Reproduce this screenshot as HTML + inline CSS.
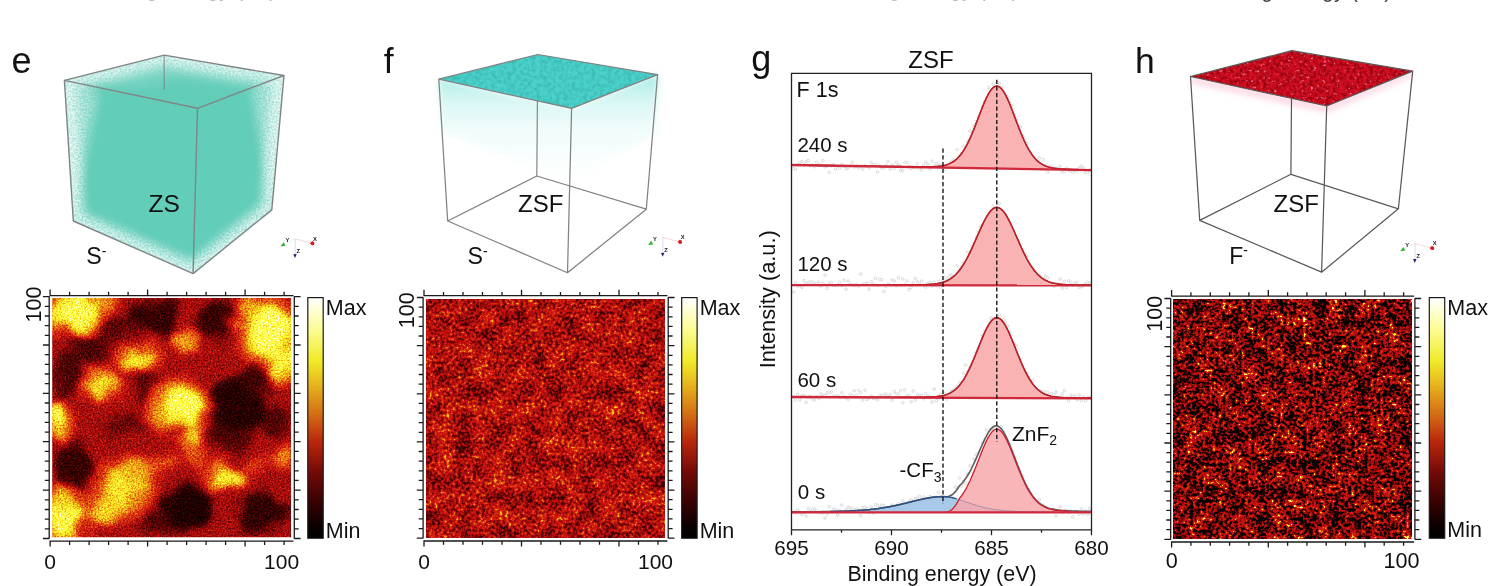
<!DOCTYPE html>
<html lang="en"><head><meta charset="utf-8"><title>Figure panels e-h</title><style>html,body{margin:0;padding:0;background:#fff}body{width:1488px;height:586px;overflow:hidden}svg{display:block;will-change:transform}</style></head><body>
<svg width="1488" height="586" viewBox="0 0 1488 586" font-family='"Liberation Sans", Arial, sans-serif' fill="#111"><defs><filter id="hotE" x="0" y="0" width="100%" height="100%" filterUnits="objectBoundingBox" color-interpolation-filters="sRGB"><feGaussianBlur in="SourceGraphic" stdDeviation="4" result="s0"/><feTurbulence type="fractalNoise" baseFrequency="0.035" numOctaves="2" seed="17" result="dm"/><feDisplacementMap in="s0" in2="dm" scale="22" xChannelSelector="R" yChannelSelector="G" result="s"/><feTurbulence type="fractalNoise" baseFrequency="0.6" numOctaves="2" seed="4" result="t"/><feColorMatrix in="t" type="matrix" values="1 0 0 0 0  1 0 0 0 0  1 0 0 0 0  0 0 0 0 1" result="n"/><feComposite in="s" in2="n" operator="arithmetic" k1="0.5" k2="0.75" k3="0.26" k4="-0.13"/><feComponentTransfer><feFuncR type="table" tableValues="0.000 0.027 0.054 0.081 0.136 0.198 0.260 0.322 0.384 0.455 0.525 0.596 0.667 0.737 0.808 0.825 0.843 0.861 0.878 0.887 0.896 0.905 0.914 0.924 0.933 0.943 0.953 0.960 0.967 0.974 0.980 0.984 0.988 0.992 0.995 0.999 1.000 1.000 1.000 1.000 1.000"/><feFuncG type="table" tableValues="0.000 0.000 0.000 0.000 0.003 0.006 0.009 0.012 0.016 0.025 0.034 0.043 0.052 0.061 0.071 0.124 0.176 0.229 0.282 0.341 0.400 0.459 0.518 0.575 0.631 0.688 0.745 0.796 0.847 0.898 0.949 0.959 0.969 0.978 0.988 0.998 1.000 1.000 1.000 1.000 1.000"/><feFuncB type="table" tableValues="0.000 0.000 0.000 0.000 0.004 0.009 0.014 0.019 0.024 0.030 0.037 0.043 0.050 0.056 0.063 0.062 0.061 0.060 0.059 0.064 0.069 0.074 0.078 0.082 0.086 0.090 0.094 0.106 0.118 0.129 0.141 0.186 0.230 0.275 0.319 0.364 0.477 0.608 0.739 0.869 1.000"/></feComponentTransfer></filter><filter id="hotF" x="0" y="0" width="100%" height="100%" color-interpolation-filters="sRGB"><feTurbulence type="fractalNoise" baseFrequency="0.055" numOctaves="2" seed="11" result="lo"/><feColorMatrix in="lo" type="matrix" values="0.7 0 0 0 -0.1  0.7 0 0 0 -0.1  0.7 0 0 0 -0.1  0 0 0 0 1" result="lo1"/><feTurbulence type="fractalNoise" baseFrequency="0.34" numOctaves="2" seed="2" result="hi"/><feColorMatrix in="hi" type="matrix" values="0 1.3 0 0 -0.4  0 1.3 0 0 -0.4  0 1.3 0 0 -0.4  0 0 0 0 1" result="hi1"/><feComposite in="lo1" in2="hi1" operator="arithmetic" k1="0" k2="1" k3="1" k4="0"/><feComponentTransfer><feFuncR type="table" tableValues="0.10 0.13 0.16 0.21 0.27 0.32 0.35 0.38 0.44 0.54 0.66"/><feFuncG type="table" tableValues="0.10 0.13 0.16 0.21 0.27 0.32 0.35 0.38 0.44 0.54 0.66"/><feFuncB type="table" tableValues="0.10 0.13 0.16 0.21 0.27 0.32 0.35 0.38 0.44 0.54 0.66"/></feComponentTransfer><feComponentTransfer><feFuncR type="table" tableValues="0.000 0.027 0.054 0.081 0.136 0.198 0.260 0.322 0.384 0.455 0.525 0.596 0.667 0.737 0.808 0.825 0.843 0.861 0.878 0.887 0.896 0.905 0.914 0.924 0.933 0.943 0.953 0.960 0.967 0.974 0.980 0.984 0.988 0.992 0.995 0.999 1.000 1.000 1.000 1.000 1.000"/><feFuncG type="table" tableValues="0.000 0.000 0.000 0.000 0.003 0.006 0.009 0.012 0.016 0.025 0.034 0.043 0.052 0.061 0.071 0.124 0.176 0.229 0.282 0.341 0.400 0.459 0.518 0.575 0.631 0.688 0.745 0.796 0.847 0.898 0.949 0.959 0.969 0.978 0.988 0.998 1.000 1.000 1.000 1.000 1.000"/><feFuncB type="table" tableValues="0.000 0.000 0.000 0.000 0.004 0.009 0.014 0.019 0.024 0.030 0.037 0.043 0.050 0.056 0.063 0.062 0.061 0.060 0.059 0.064 0.069 0.074 0.078 0.082 0.086 0.090 0.094 0.106 0.118 0.129 0.141 0.186 0.230 0.275 0.319 0.364 0.477 0.608 0.739 0.869 1.000"/></feComponentTransfer></filter><filter id="hotH" x="0" y="0" width="100%" height="100%" color-interpolation-filters="sRGB"><feTurbulence type="fractalNoise" baseFrequency="0.31 0.33" numOctaves="2" seed="23" result="hi"/><feColorMatrix in="hi" type="matrix" values="0 0 1 0 0  0 0 1 0 0  0 0 1 0 0  0 0 0 0 1" result="hi1"/><feTurbulence type="fractalNoise" baseFrequency="0.07" numOctaves="2" seed="31" result="lo"/><feColorMatrix in="lo" type="matrix" values="0.5 0 0 0 0  0.5 0 0 0 0  0.5 0 0 0 0  0 0 0 0 1" result="lo1"/><feComposite in="hi1" in2="lo1" operator="arithmetic" k1="0" k2="1" k3="1" k4="-0.25"/><feComponentTransfer><feFuncR type="table" tableValues="0 0 0 0 0 0 0.01 0.04 0.10 0.17 0.24 0.30 0.335 0.35 0.37 0.44 0.62 0.82 0.95 1 1"/><feFuncG type="table" tableValues="0 0 0 0 0 0 0.01 0.04 0.10 0.17 0.24 0.30 0.335 0.35 0.37 0.44 0.62 0.82 0.95 1 1"/><feFuncB type="table" tableValues="0 0 0 0 0 0 0.01 0.04 0.10 0.17 0.24 0.30 0.335 0.35 0.37 0.44 0.62 0.82 0.95 1 1"/></feComponentTransfer><feComponentTransfer><feFuncR type="table" tableValues="0.000 0.027 0.054 0.081 0.136 0.198 0.260 0.322 0.384 0.455 0.525 0.596 0.667 0.737 0.808 0.825 0.843 0.861 0.878 0.887 0.896 0.905 0.914 0.924 0.933 0.943 0.953 0.960 0.967 0.974 0.980 0.984 0.988 0.992 0.995 0.999 1.000 1.000 1.000 1.000 1.000"/><feFuncG type="table" tableValues="0.000 0.000 0.000 0.000 0.003 0.006 0.009 0.012 0.016 0.025 0.034 0.043 0.052 0.061 0.071 0.124 0.176 0.229 0.282 0.341 0.400 0.459 0.518 0.575 0.631 0.688 0.745 0.796 0.847 0.898 0.949 0.959 0.969 0.978 0.988 0.998 1.000 1.000 1.000 1.000 1.000"/><feFuncB type="table" tableValues="0.000 0.000 0.000 0.000 0.004 0.009 0.014 0.019 0.024 0.030 0.037 0.043 0.050 0.056 0.063 0.062 0.061 0.060 0.059 0.064 0.069 0.074 0.078 0.082 0.086 0.090 0.094 0.106 0.118 0.129 0.141 0.186 0.230 0.275 0.319 0.364 0.477 0.608 0.739 0.869 1.000"/></feComponentTransfer></filter><linearGradient id="cb" x1="0" y1="0" x2="0" y2="1"><stop offset="0%" stop-color="rgb(255,255,255)"/><stop offset="13%" stop-color="rgb(252,252,150)"/><stop offset="26.5%" stop-color="rgb(240,234,40)"/><stop offset="38%" stop-color="rgb(228,170,28)"/><stop offset="48%" stop-color="rgb(212,112,20)"/><stop offset="60%" stop-color="rgb(185,38,12)"/><stop offset="72.5%" stop-color="rgb(115,10,8)"/><stop offset="85%" stop-color="rgb(55,2,2)"/><stop offset="95%" stop-color="rgb(12,0,0)"/><stop offset="100%" stop-color="rgb(0,0,0)"/></linearGradient><radialGradient id="gB"><stop offset="0" stop-color="#fff" stop-opacity="1"/><stop offset="0.45" stop-color="#fff" stop-opacity="0.75"/><stop offset="1" stop-color="#fff" stop-opacity="0"/></radialGradient><radialGradient id="gD"><stop offset="0" stop-color="#000" stop-opacity="1"/><stop offset="0.5" stop-color="#000" stop-opacity="0.6"/><stop offset="1" stop-color="#000" stop-opacity="0"/></radialGradient><clipPath id="clE"><polygon points="64.4,80.4 164.2,55.1 284,75.5 271.8,209.9 193.1,273.6 73.3,221"/></clipPath><filter id="spk" x="-40%" y="-20%" width="180%" height="140%" color-interpolation-filters="sRGB"><feGaussianBlur in="SourceGraphic" stdDeviation="5.5" result="b"/><feTurbulence type="fractalNoise" baseFrequency="0.55" numOctaves="2" seed="5" result="t"/><feColorMatrix in="t" type="matrix" values="0 0 0 0 1  0 0 0 0 1  0 0 0 0 1  2.2 0 0 0 -0.55" result="tn"/><feComposite in="b" in2="tn" operator="in"/></filter><filter id="bl9" x="-40%" y="-20%" width="180%" height="140%"><feGaussianBlur stdDeviation="6"/></filter><filter id="texF" x="0" y="0" width="100%" height="100%" color-interpolation-filters="sRGB"><feTurbulence type="fractalNoise" baseFrequency="0.25" numOctaves="2" seed="8" result="t"/><feColorMatrix in="t" type="matrix" values="0 0 0 0 0.14  0 0 0 0 0.6  0 0 0 0 0.6  1.0 0 0 0 -0.38" result="tn"/><feComposite in="tn" in2="SourceGraphic" operator="in" result="tt"/><feMerge><feMergeNode in="SourceGraphic"/><feMergeNode in="tt"/></feMerge></filter><linearGradient id="hzF" x1="0" y1="0" x2="0" y2="1"><stop offset="0" stop-color="#86e4dd" stop-opacity="0.85"/><stop offset="0.18" stop-color="#a6ece6" stop-opacity="0.55"/><stop offset="0.5" stop-color="#c8f4f0" stop-opacity="0.28"/><stop offset="1" stop-color="#d8f8f5" stop-opacity="0"/></linearGradient><filter id="bl3" x="-10%" y="-10%" width="120%" height="120%"><feGaussianBlur stdDeviation="3"/></filter><filter id="texH" x="-2%" y="-5%" width="104%" height="115%" color-interpolation-filters="sRGB"><feTurbulence type="fractalNoise" baseFrequency="0.3" numOctaves="2" seed="3" result="t"/><feColorMatrix in="t" type="matrix" values="0 0 0 0 0.55  0 0 0 0 0  0 0 0 0 0.05  2.4 0 0 0 -0.9" result="tn"/><feComposite in="tn" in2="SourceGraphic" operator="in" result="tt"/><feColorMatrix in="t" type="matrix" values="0 0 0 0 1  0 0 0 0 0.7  0 0 0 0 0.8  0 3.5 0 0 -2.25" result="wn"/><feComposite in="wn" in2="SourceGraphic" operator="in" result="ww"/><feMerge><feMergeNode in="SourceGraphic"/><feMergeNode in="tt"/><feMergeNode in="ww"/></feMerge></filter><clipPath id="clHE"><rect x="52.2" y="298" width="238.8" height="239.2"/></clipPath></defs><g clip-path="url(#clE)">
<polygon points="64.4,80.4 164.2,55.1 284,75.5 271.8,209.9 193.1,273.6 73.3,221" fill="#62cdb9"/>
<polygon points="64.4,80.4 164.2,55.1 284,75.5 271.8,209.9 193.1,273.6 73.3,221" fill="none" stroke="#fff" stroke-width="18" opacity="0.42" filter="url(#bl9)"/>
<polygon points="64.4,80.4 164.2,55.1 284,75.5 271.8,209.9 193.1,273.6 73.3,221" fill="none" stroke="#fff" stroke-width="20" opacity="0.8" filter="url(#spk)"/>
<g fill="#fff" stroke="none"><polygon points="64.4,80.4 98.4,92.4 77.3,191 73.3,221" opacity="0.2" filter="url(#bl9)"/><polygon points="284,75.5 252,87.5 267.8,179.9 271.8,209.9" opacity="0.2" filter="url(#bl9)"/><polygon points="64.4,80.4 98.4,92.4 77.3,191 73.3,221" opacity="0.45" filter="url(#spk)"/><polygon points="284,75.5 252,87.5 267.8,179.9 271.8,209.9" opacity="0.45" filter="url(#spk)"/></g>
<polygon points="64.4,80.4 164.2,55.1 284,75.5 240.8,85.9 180.8,77.7 130.9,88.3" fill="#fff" opacity="0.16" filter="url(#bl9)"/>
</g>
<path d="M164.2 55.1V90" stroke="#7a7a7a" stroke-width="1.2" opacity="0.7"/>
<g stroke="#808585" stroke-width="1.4" fill="none" stroke-linejoin="round"><polygon points="64.4,80.4 164.2,55.1 284,75.5 271.8,209.9 193.1,273.6 73.3,221"/><path d="M64.4,80.4L197.5,108.3L284,75.5M197.5,108.3L193.1,273.6"/></g>
<text x="148.6" y="211.8" font-size="24.5">ZS</text>
<text x="86.2" y="264" font-size="23.2">S<tspan font-size="14" dy="-8.5">-</tspan></text>
<g font-size="5.8" font-weight="bold" fill="#1c1c28">
<path d="M295 238.8l17 4.5" stroke="#f6c4c4" stroke-width="0.7"/>
<path d="M295 238.8l-12 5.5" stroke="#d8efd8" stroke-width="0.6"/>
<path d="M295.2 238.8v16" stroke="#c4c4e0" stroke-width="0.6"/>
<path d="M314.5 244.4l-4.5 -0.2 1.8 -3.2z" fill="#d22" stroke="none" transform="rotate(15 312.5 243.3)"/>
<circle cx="312.5" cy="243.4" r="1.9" fill="#d42020"/>
<path d="M280.5 246.4l5 -0.6 -2 -3.6z" fill="#2cb52c"/>
<path d="M293.3 254.3l3.4 -0.2 -1.7 4z" fill="#1c1c7a"/>
<text x="285.4" y="242">Y</text>
<text x="313" y="240.6">X</text>
<text x="296.6" y="253">Z</text>
</g>
<polygon points="438.8,79.1 571.6,108.4 657.6,74.6 656.6,132.6 570.6,183.4 440.8,131.1" fill="url(#hzF)" filter="url(#bl3)"/>
<path d="M537.8,54.5L536.8,176" stroke="#8a8a8a" stroke-width="1.25" fill="none" stroke-linecap="round"/>
<polygon points="438.8,79.1 537.8,54.5 657.6,74.6 571.6,108.4" fill="#4bd1c9" filter="url(#texF)"/>
<path d="M438.8,79.1L537.8,54.5M537.8,54.5L657.6,74.6M657.6,74.6L571.6,108.4M571.6,108.4L438.8,79.1M447.7,221L536.8,176M536.8,176L646.3,209.2M646.3,209.2L567.5,272.7M567.5,272.7L447.7,221M438.8,79.1L447.7,221M657.6,74.6L646.3,209.2M571.6,108.4L567.5,272.7" stroke="#828282" stroke-width="1.25" fill="none" stroke-linecap="round"/>
<text x="518" y="211.5" font-size="24">ZSF</text>
<text x="467.6" y="264.2" font-size="23.2">S<tspan font-size="14" dy="-8.5">-</tspan></text>
<g font-size="5.8" font-weight="bold" fill="#1c1c28">
<path d="M662.7 237.4l17 4.5" stroke="#f6c4c4" stroke-width="0.7"/>
<path d="M662.7 237.4l-12 5.5" stroke="#d8efd8" stroke-width="0.6"/>
<path d="M662.9 237.4v16" stroke="#c4c4e0" stroke-width="0.6"/>
<path d="M682.2 243l-4.5 -0.2 1.8 -3.2z" fill="#d22" stroke="none" transform="rotate(15 680.2 241.9)"/>
<circle cx="680.2" cy="242" r="1.9" fill="#d42020"/>
<path d="M648.2 245l5 -0.6 -2 -3.6z" fill="#2cb52c"/>
<path d="M661 252.9l3.4 -0.2 -1.7 4z" fill="#1c1c7a"/>
<text x="653.1" y="240.6">Y</text>
<text x="680.7" y="239.2">X</text>
<text x="664.3" y="251.6">Z</text>
</g>
<polygon points="1190.5,76.5 1326.7,106 1412.7,71.1 1412.2,76.1 1326.7,112 1191.5,82.5" fill="#f8a8c0" opacity="0.55" filter="url(#bl3)"/>
<path d="M1291.9,50.7L1290.9,174.3" stroke="#5a5a5a" stroke-width="1.25" fill="none" stroke-linecap="round"/>
<polygon points="1190.5,76.5 1291.9,50.7 1412.7,71.1 1326.7,106" fill="#d40f22" filter="url(#texH)"/>
<path d="M1190.5,76.5L1291.9,50.7M1291.9,50.7L1412.7,71.1M1412.7,71.1L1326.7,106M1326.7,106L1190.5,76.5M1199.7,220.4L1290.9,174.3M1290.9,174.3L1398.4,208.8M1398.4,208.8L1321.6,272.2M1321.6,272.2L1199.7,220.4M1190.5,76.5L1199.7,220.4M1412.7,71.1L1398.4,208.8M1326.7,106L1321.6,272.2" stroke="#5a5a5a" stroke-width="1.25" fill="none" stroke-linecap="round"/>
<text x="1273.6" y="211.5" font-size="24">ZSF</text>
<text x="1229.3" y="263.6" font-size="23">F<tspan font-size="14" dy="-8.5">-</tspan></text>
<g font-size="5.8" font-weight="bold" fill="#1c1c28">
<path d="M1414.8 243.6l17 4.5" stroke="#f6c4c4" stroke-width="0.7"/>
<path d="M1414.8 243.6l-12 5.5" stroke="#d8efd8" stroke-width="0.6"/>
<path d="M1415 243.6v16" stroke="#c4c4e0" stroke-width="0.6"/>
<path d="M1434.3 249.2l-4.5 -0.2 1.8 -3.2z" fill="#d22" stroke="none" transform="rotate(15 1432.3 248.1)"/>
<circle cx="1432.3" cy="248.2" r="1.9" fill="#d42020"/>
<path d="M1400.3 251.2l5 -0.6 -2 -3.6z" fill="#2cb52c"/>
<path d="M1413.1 259.1l3.4 -0.2 -1.7 4z" fill="#1c1c7a"/>
<text x="1405.2" y="246.8">Y</text>
<text x="1432.8" y="245.4">X</text>
<text x="1416.4" y="257.8">Z</text>
</g>
<text x="11.4" y="72.6" font-size="36">e</text>
<text x="383.8" y="73" font-size="35.5">f</text>
<text x="751.2" y="71.2" font-size="36">g</text>
<text x="1135" y="73" font-size="35.5">h</text>
<g clip-path="url(#clHE)"><g filter="url(#hotE)"><rect x="22.2" y="268" width="298.8" height="299.2" fill="rgb(75,75,75)"/>
<ellipse cx="88" cy="345.8" rx="21.5" ry="19.1" fill="rgb(41,41,41)"/>
<ellipse cx="154.9" cy="317.1" rx="23.9" ry="19.1" fill="rgb(33,33,33)"/>
<ellipse cx="219.4" cy="319.5" rx="21.5" ry="21.5" fill="rgb(33,33,33)"/>
<ellipse cx="236.1" cy="408" rx="28.7" ry="26.3" fill="rgb(26,26,26)"/>
<ellipse cx="260" cy="379.3" rx="19.1" ry="16.7" fill="rgb(38,38,38)"/>
<ellipse cx="66.5" cy="376.9" rx="14.3" ry="21.5" fill="rgb(43,43,43)"/>
<ellipse cx="73.7" cy="465.4" rx="19.1" ry="23.9" fill="rgb(33,33,33)"/>
<ellipse cx="188.3" cy="508.5" rx="28.7" ry="21.5" fill="rgb(23,23,23)"/>
<ellipse cx="262.3" cy="513.3" rx="26.3" ry="19.1" fill="rgb(31,31,31)"/>
<ellipse cx="147.7" cy="388.9" rx="14.3" ry="14.4" fill="rgb(48,48,48)"/>
<ellipse cx="123.8" cy="424.8" rx="21.5" ry="9.6" fill="rgb(51,51,51)"/>
<ellipse cx="226.5" cy="439.1" rx="21.5" ry="12" fill="rgb(41,41,41)"/>
<ellipse cx="159.7" cy="525.2" rx="16.7" ry="12" fill="rgb(43,43,43)"/>
<ellipse cx="274.3" cy="422.4" rx="14.3" ry="14.4" fill="rgb(43,43,43)"/>
<ellipse cx="119.1" cy="329.1" rx="14.3" ry="12" fill="rgb(48,48,48)"/>
<ellipse cx="73.7" cy="312.4" rx="35.5" ry="25.8" fill="rgb(114,114,114)"/>
<ellipse cx="102.3" cy="305.2" rx="17.7" ry="11.3" fill="rgb(93,93,93)"/>
<ellipse cx="267.1" cy="329.1" rx="36.4" ry="38.1" fill="rgb(116,116,116)"/>
<ellipse cx="282.6" cy="360.2" rx="16.1" ry="24.2" fill="rgb(111,111,111)"/>
<ellipse cx="250.4" cy="307.6" rx="19.3" ry="12.9" fill="rgb(93,93,93)"/>
<ellipse cx="184.5" cy="338.9" rx="18.7" ry="16.5" fill="rgb(93,93,93)"/>
<ellipse cx="137.5" cy="357.8" rx="24.8" ry="14.2" fill="rgb(107,107,107)"/>
<ellipse cx="100.9" cy="383.9" rx="22.2" ry="18.7" fill="rgb(104,104,104)"/>
<ellipse cx="182.3" cy="405.6" rx="35.1" ry="28.1" fill="rgb(115,115,115)"/>
<ellipse cx="60.6" cy="420" rx="16.1" ry="17.8" fill="rgb(113,113,113)"/>
<ellipse cx="191.9" cy="437.9" rx="14.5" ry="24.2" fill="rgb(100,100,100)"/>
<ellipse cx="126.2" cy="489.4" rx="35.5" ry="32.3" fill="rgb(105,105,105)"/>
<ellipse cx="138.2" cy="470.2" rx="22.6" ry="17.8" fill="rgb(94,94,94)"/>
<ellipse cx="104.7" cy="508.5" rx="25.8" ry="19.4" fill="rgb(102,102,102)"/>
<ellipse cx="140.6" cy="498.9" rx="17.7" ry="16.1" fill="rgb(88,88,88)"/>
<ellipse cx="64.9" cy="518.8" rx="26.4" ry="29.1" fill="rgb(113,113,113)"/>
<ellipse cx="61.8" cy="496.5" rx="16.1" ry="16.1" fill="rgb(102,102,102)"/>
<ellipse cx="225.8" cy="475.2" rx="24.7" ry="16.5" fill="rgb(107,107,107)"/>
<ellipse cx="282.4" cy="457.8" rx="17.7" ry="14.5" fill="rgb(89,89,89)"/>
<ellipse cx="162" cy="463" rx="25.8" ry="14.5" fill="rgb(79,79,79)"/>
<ellipse cx="195.5" cy="460.7" rx="17.7" ry="11.6" fill="rgb(79,79,79)"/>
<ellipse cx="254" cy="464.2" rx="22.6" ry="10.7" fill="rgb(76,76,76)"/>
<ellipse cx="73.7" cy="312.4" rx="22.3" ry="16.3" fill="rgb(212,212,212)"/>
<ellipse cx="102.3" cy="305.2" rx="11.2" ry="7.1" fill="rgb(153,153,153)"/>
<ellipse cx="267.1" cy="329.1" rx="22.9" ry="24" fill="rgb(217,217,217)"/>
<ellipse cx="282.6" cy="360.2" rx="10.1" ry="15.2" fill="rgb(204,204,204)"/>
<ellipse cx="250.4" cy="307.6" rx="12.2" ry="8.1" fill="rgb(153,153,153)"/>
<ellipse cx="184.5" cy="338.9" rx="11.8" ry="10.4" fill="rgb(153,153,153)"/>
<ellipse cx="137.5" cy="357.8" rx="15.6" ry="8.9" fill="rgb(194,194,194)"/>
<ellipse cx="100.9" cy="383.9" rx="14" ry="11.8" fill="rgb(184,184,184)"/>
<ellipse cx="182.3" cy="405.6" rx="22.1" ry="17.7" fill="rgb(214,214,214)"/>
<ellipse cx="60.6" cy="420" rx="10.1" ry="11.2" fill="rgb(209,209,209)"/>
<ellipse cx="191.9" cy="437.9" rx="9.1" ry="15.2" fill="rgb(173,173,173)"/>
<ellipse cx="126.2" cy="489.4" rx="22.3" ry="20.3" fill="rgb(189,189,189)"/>
<ellipse cx="138.2" cy="470.2" rx="14.2" ry="11.2" fill="rgb(158,158,158)"/>
<ellipse cx="104.7" cy="508.5" rx="16.2" ry="12.2" fill="rgb(178,178,178)"/>
<ellipse cx="140.6" cy="498.9" rx="11.2" ry="10.2" fill="rgb(140,140,140)"/>
<ellipse cx="64.9" cy="518.8" rx="16.6" ry="18.3" fill="rgb(209,209,209)"/>
<ellipse cx="61.8" cy="496.5" rx="10.1" ry="10.2" fill="rgb(178,178,178)"/>
<ellipse cx="225.8" cy="475.2" rx="15.5" ry="10.4" fill="rgb(194,194,194)"/>
<ellipse cx="282.4" cy="457.8" rx="11.2" ry="9.1" fill="rgb(143,143,143)"/>
<ellipse cx="162" cy="463" rx="16.2" ry="9.1" fill="rgb(115,115,115)"/>
<ellipse cx="195.5" cy="460.7" rx="11.2" ry="7.3" fill="rgb(115,115,115)"/>
<ellipse cx="254" cy="464.2" rx="14.2" ry="6.7" fill="rgb(107,107,107)"/>
</g></g>
<path d="M49.2 296.3V538.8M294.3 296.3V538.8M49.5 295.6H293.5M49.5 541.1H293.5M50.1 295.6v-6M50.1 541.1v5.5M69.6 295.6v-3.8M69.6 541.1v3.8M89.1 295.6v-3.8M89.1 541.1v3.8M108.6 295.6v-3.8M108.6 541.1v3.8M128.1 295.6v-3.8M128.1 541.1v3.8M147.6 295.6v-6M147.6 541.1v5.5M167.1 295.6v-3.8M167.1 541.1v3.8M186.6 295.6v-3.8M186.6 541.1v3.8M206.1 295.6v-3.8M206.1 541.1v3.8M225.6 295.6v-3.8M225.6 541.1v3.8M245.1 295.6v-6M245.1 541.1v5.5M264.6 295.6v-3.8M264.6 541.1v3.8M284.1 295.6v-3.8M284.1 541.1v3.8M49.2 538.5h-6.3M294.3 538.5h6.3M49.2 528.8h-4.4M294.3 528.8h4.4M49.2 519.1h-4.4M294.3 519.1h4.4M49.2 509.5h-4.4M294.3 509.5h4.4M49.2 499.8h-4.4M294.3 499.8h4.4M49.2 490.1h-6.3M294.3 490.1h6.3M49.2 480.4h-4.4M294.3 480.4h4.4M49.2 470.8h-4.4M294.3 470.8h4.4M49.2 461.1h-4.4M294.3 461.1h4.4M49.2 451.4h-4.4M294.3 451.4h4.4M49.2 441.7h-6.3M294.3 441.7h6.3M49.2 432.1h-4.4M294.3 432.1h4.4M49.2 422.4h-4.4M294.3 422.4h4.4M49.2 412.7h-4.4M294.3 412.7h4.4M49.2 403h-4.4M294.3 403h4.4M49.2 393.4h-6.3M294.3 393.4h6.3M49.2 383.7h-4.4M294.3 383.7h4.4M49.2 374h-4.4M294.3 374h4.4M49.2 364.3h-4.4M294.3 364.3h4.4M49.2 354.7h-4.4M294.3 354.7h4.4M49.2 345h-6.3M294.3 345h6.3M49.2 335.3h-4.4M294.3 335.3h4.4M49.2 325.6h-4.4M294.3 325.6h4.4M49.2 316h-4.4M294.3 316h4.4M49.2 306.3h-4.4M294.3 306.3h4.4M49.2 296.6h-6.3M294.3 296.6h6.3" stroke="#1a1a1a" stroke-width="1.3" fill="none"/>
<rect x="307.8" y="297.6" width="15.4" height="240.6" fill="url(#cb)" stroke="#1a1a1a" stroke-width="1.2"/>
<text x="325.8" y="314.6" font-size="21.5">Max</text>
<text x="325.8" y="537.8" font-size="21.5">Min</text>
<text x="50.2" y="568.6" font-size="21" text-anchor="middle">0</text>
<text x="281.6" y="568.6" font-size="21" text-anchor="middle">100</text>
<text transform="translate(40.9,286.6) rotate(-90)" font-size="21.5" text-anchor="end">100</text>
<rect x="426.1" y="299" width="238.8" height="238.5" fill="#800" filter="url(#hotF)"/>
<path d="M423.1 297.2V538.5M668.2 297.2V538.5M423.4 295.7H667.4M423.4 541H667.4M424 295.7v-6M424 541v5.5M443.5 295.7v-3.8M443.5 541v3.8M463 295.7v-3.8M463 541v3.8M482.5 295.7v-3.8M482.5 541v3.8M502 295.7v-3.8M502 541v3.8M521.5 295.7v-6M521.5 541v5.5M541 295.7v-3.8M541 541v3.8M560.5 295.7v-3.8M560.5 541v3.8M580 295.7v-3.8M580 541v3.8M599.5 295.7v-3.8M599.5 541v3.8M619 295.7v-6M619 541v5.5M638.5 295.7v-3.8M638.5 541v3.8M658 295.7v-3.8M658 541v3.8M423.1 538.2h-6.3M668.2 538.2h6.3M423.1 528.6h-4.4M668.2 528.6h4.4M423.1 518.9h-4.4M668.2 518.9h4.4M423.1 509.3h-4.4M668.2 509.3h4.4M423.1 499.7h-4.4M668.2 499.7h4.4M423.1 490.1h-6.3M668.2 490.1h6.3M423.1 480.4h-4.4M668.2 480.4h4.4M423.1 470.8h-4.4M668.2 470.8h4.4M423.1 461.2h-4.4M668.2 461.2h4.4M423.1 451.5h-4.4M668.2 451.5h4.4M423.1 441.9h-6.3M668.2 441.9h6.3M423.1 432.3h-4.4M668.2 432.3h4.4M423.1 422.7h-4.4M668.2 422.7h4.4M423.1 413h-4.4M668.2 413h4.4M423.1 403.4h-4.4M668.2 403.4h4.4M423.1 393.8h-6.3M668.2 393.8h6.3M423.1 384.2h-4.4M668.2 384.2h4.4M423.1 374.5h-4.4M668.2 374.5h4.4M423.1 364.9h-4.4M668.2 364.9h4.4M423.1 355.3h-4.4M668.2 355.3h4.4M423.1 345.6h-6.3M668.2 345.6h6.3M423.1 336h-4.4M668.2 336h4.4M423.1 326.4h-4.4M668.2 326.4h4.4M423.1 316.8h-4.4M668.2 316.8h4.4M423.1 307.1h-4.4M668.2 307.1h4.4M423.1 297.5h-6.3M668.2 297.5h6.3" stroke="#1a1a1a" stroke-width="1.3" fill="none"/>
<rect x="681.7" y="297.6" width="15.4" height="240.6" fill="url(#cb)" stroke="#1a1a1a" stroke-width="1.2"/>
<text x="699.7" y="314.6" font-size="21.5">Max</text>
<text x="699.7" y="537.8" font-size="21.5">Min</text>
<text x="424.1" y="568.6" font-size="21" text-anchor="middle">0</text>
<text x="655.5" y="568.6" font-size="21" text-anchor="middle">100</text>
<text transform="translate(413.5,292.4) rotate(-90)" font-size="21.5" text-anchor="end">100</text>
<rect x="1173.7" y="299.3" width="237.9" height="239.3" fill="#800" filter="url(#hotH)"/>
<path d="M1170.7 298.2V539.6M1414.9 298.2V539.6M1171 296.1H1414.1M1171 542H1414.1M1171.6 296.1v-6M1171.6 542v5.5M1190.9 296.1v-3.8M1190.9 542v3.8M1210.3 296.1v-3.8M1210.3 542v3.8M1229.6 296.1v-3.8M1229.6 542v3.8M1248.9 296.1v-3.8M1248.9 542v3.8M1268.3 296.1v-6M1268.3 542v5.5M1287.6 296.1v-3.8M1287.6 542v3.8M1306.9 296.1v-3.8M1306.9 542v3.8M1326.2 296.1v-3.8M1326.2 542v3.8M1345.6 296.1v-3.8M1345.6 542v3.8M1364.9 296.1v-6M1364.9 542v5.5M1384.2 296.1v-3.8M1384.2 542v3.8M1403.6 296.1v-3.8M1403.6 542v3.8M1170.7 539.3h-6.3M1414.9 539.3h6.3M1170.7 529.7h-4.4M1414.9 529.7h4.4M1170.7 520h-4.4M1414.9 520h4.4M1170.7 510.4h-4.4M1414.9 510.4h4.4M1170.7 500.8h-4.4M1414.9 500.8h4.4M1170.7 491.1h-6.3M1414.9 491.1h6.3M1170.7 481.5h-4.4M1414.9 481.5h4.4M1170.7 471.9h-4.4M1414.9 471.9h4.4M1170.7 462.2h-4.4M1414.9 462.2h4.4M1170.7 452.6h-4.4M1414.9 452.6h4.4M1170.7 443h-6.3M1414.9 443h6.3M1170.7 433.3h-4.4M1414.9 433.3h4.4M1170.7 423.7h-4.4M1414.9 423.7h4.4M1170.7 414.1h-4.4M1414.9 414.1h4.4M1170.7 404.5h-4.4M1414.9 404.5h4.4M1170.7 394.8h-6.3M1414.9 394.8h6.3M1170.7 385.2h-4.4M1414.9 385.2h4.4M1170.7 375.6h-4.4M1414.9 375.6h4.4M1170.7 365.9h-4.4M1414.9 365.9h4.4M1170.7 356.3h-4.4M1414.9 356.3h4.4M1170.7 346.7h-6.3M1414.9 346.7h6.3M1170.7 337h-4.4M1414.9 337h4.4M1170.7 327.4h-4.4M1414.9 327.4h4.4M1170.7 317.8h-4.4M1414.9 317.8h4.4M1170.7 308.1h-4.4M1414.9 308.1h4.4M1170.7 298.5h-6.3M1414.9 298.5h6.3" stroke="#1a1a1a" stroke-width="1.3" fill="none"/>
<rect x="1429.3" y="297.6" width="15.4" height="240.6" fill="url(#cb)" stroke="#1a1a1a" stroke-width="1.2"/>
<text x="1447.3" y="314.6" font-size="21.5">Max</text>
<text x="1447.3" y="536.9" font-size="21.5">Min</text>
<text x="1171.7" y="567.7" font-size="21.6" text-anchor="middle">0</text>
<text x="1401.4" y="567.7" font-size="21.6" text-anchor="middle">100</text>
<text transform="translate(1162,295.8) rotate(-90)" font-size="21.5" text-anchor="end">100</text>
<g>
<g fill="#fff" stroke="#cfcfcf" stroke-width="0.8"><circle cx="793.5" cy="168.5" r="1.3"/><circle cx="795.6" cy="169.1" r="1.3"/><circle cx="797.7" cy="164.9" r="1.3"/><circle cx="799.8" cy="162.5" r="1.3"/><circle cx="801.9" cy="161.5" r="1.3"/><circle cx="804" cy="164.9" r="1.3"/><circle cx="806.1" cy="161.8" r="1.3"/><circle cx="808.2" cy="160.6" r="1.3"/><circle cx="810.3" cy="165.6" r="1.3"/><circle cx="812.4" cy="165.4" r="1.3"/><circle cx="814.5" cy="166.7" r="1.3"/><circle cx="816.6" cy="162.3" r="1.3"/><circle cx="818.7" cy="165.1" r="1.3"/><circle cx="820.8" cy="164.9" r="1.3"/><circle cx="822.9" cy="160.6" r="1.3"/><circle cx="825" cy="166.8" r="1.3"/><circle cx="827.1" cy="166.2" r="1.3"/><circle cx="829.2" cy="172.4" r="1.3"/><circle cx="831.3" cy="165.9" r="1.3"/><circle cx="833.4" cy="164.9" r="1.3"/><circle cx="835.5" cy="169.1" r="1.3"/><circle cx="837.6" cy="166" r="1.3"/><circle cx="839.7" cy="168.2" r="1.3"/><circle cx="841.8" cy="164.4" r="1.3"/><circle cx="843.9" cy="166.2" r="1.3"/><circle cx="846" cy="168.6" r="1.3"/><circle cx="848.1" cy="167.7" r="1.3"/><circle cx="850.2" cy="166" r="1.3"/><circle cx="852.3" cy="162.4" r="1.3"/><circle cx="854.4" cy="167" r="1.3"/><circle cx="856.5" cy="165.9" r="1.3"/><circle cx="858.6" cy="167.9" r="1.3"/><circle cx="860.7" cy="166.4" r="1.3"/><circle cx="862.8" cy="169.1" r="1.3"/><circle cx="864.9" cy="165.7" r="1.3"/><circle cx="867" cy="166.5" r="1.3"/><circle cx="869.1" cy="167.9" r="1.3"/><circle cx="871.2" cy="162.7" r="1.3"/><circle cx="873.3" cy="164.8" r="1.3"/><circle cx="875.4" cy="164.5" r="1.3"/><circle cx="877.5" cy="172" r="1.3"/><circle cx="879.6" cy="165.8" r="1.3"/><circle cx="881.7" cy="168" r="1.3"/><circle cx="883.8" cy="168" r="1.3"/><circle cx="885.9" cy="165.3" r="1.3"/><circle cx="888" cy="161.5" r="1.3"/><circle cx="890.1" cy="169.1" r="1.3"/><circle cx="892.2" cy="165" r="1.3"/><circle cx="894.3" cy="168.4" r="1.3"/><circle cx="896.4" cy="162.4" r="1.3"/><circle cx="898.5" cy="165" r="1.3"/><circle cx="900.6" cy="170.1" r="1.3"/><circle cx="902.7" cy="170.7" r="1.3"/><circle cx="904.8" cy="162.5" r="1.3"/><circle cx="906.9" cy="162.4" r="1.3"/><circle cx="909" cy="166.3" r="1.3"/><circle cx="911.1" cy="168.6" r="1.3"/><circle cx="913.2" cy="167" r="1.3"/><circle cx="915.3" cy="167.4" r="1.3"/><circle cx="917.4" cy="163.6" r="1.3"/><circle cx="919.5" cy="168.3" r="1.3"/><circle cx="921.6" cy="169.9" r="1.3"/><circle cx="923.7" cy="165.2" r="1.3"/><circle cx="925.8" cy="162.2" r="1.3"/><circle cx="927.9" cy="164.2" r="1.3"/><circle cx="930" cy="168.8" r="1.3"/><circle cx="932.1" cy="161.2" r="1.3"/><circle cx="934.2" cy="166.1" r="1.3"/><circle cx="936.3" cy="163.2" r="1.3"/><circle cx="938.4" cy="165.7" r="1.3"/><circle cx="940.5" cy="165.1" r="1.3"/><circle cx="942.6" cy="165.5" r="1.3"/><circle cx="944.7" cy="169.5" r="1.3"/><circle cx="946.8" cy="165.7" r="1.3"/><circle cx="948.9" cy="167.7" r="1.3"/><circle cx="951" cy="162.3" r="1.3"/><circle cx="953.1" cy="160" r="1.3"/><circle cx="955.2" cy="161.1" r="1.3"/><circle cx="957.3" cy="149.6" r="1.3"/><circle cx="959.4" cy="155.8" r="1.3"/><circle cx="961.5" cy="153.7" r="1.3"/><circle cx="963.6" cy="146.5" r="1.3"/><circle cx="965.7" cy="148.1" r="1.3"/><circle cx="967.8" cy="141" r="1.3"/><circle cx="969.9" cy="130.9" r="1.3"/><circle cx="972" cy="132.9" r="1.3"/><circle cx="974.1" cy="125.5" r="1.3"/><circle cx="976.2" cy="121.5" r="1.3"/><circle cx="978.3" cy="117.1" r="1.3"/><circle cx="980.4" cy="115.8" r="1.3"/><circle cx="982.5" cy="107" r="1.3"/><circle cx="984.6" cy="101.5" r="1.3"/><circle cx="986.7" cy="98.2" r="1.3"/><circle cx="988.8" cy="87.6" r="1.3"/><circle cx="990.9" cy="93.5" r="1.3"/><circle cx="993" cy="84.2" r="1.3"/><circle cx="995.1" cy="87.4" r="1.3"/><circle cx="997.2" cy="82.4" r="1.3"/><circle cx="999.3" cy="83.6" r="1.3"/><circle cx="1001.4" cy="87.2" r="1.3"/><circle cx="1003.5" cy="96.8" r="1.3"/><circle cx="1005.6" cy="96.8" r="1.3"/><circle cx="1007.7" cy="97.2" r="1.3"/><circle cx="1009.8" cy="103.1" r="1.3"/><circle cx="1011.9" cy="105.8" r="1.3"/><circle cx="1014" cy="114.6" r="1.3"/><circle cx="1016.1" cy="118.6" r="1.3"/><circle cx="1018.2" cy="128" r="1.3"/><circle cx="1020.3" cy="127.1" r="1.3"/><circle cx="1022.4" cy="135.3" r="1.3"/><circle cx="1024.5" cy="138.5" r="1.3"/><circle cx="1026.6" cy="143.1" r="1.3"/><circle cx="1028.7" cy="151.3" r="1.3"/><circle cx="1030.8" cy="153" r="1.3"/><circle cx="1032.9" cy="157.3" r="1.3"/><circle cx="1035" cy="161.7" r="1.3"/><circle cx="1037.1" cy="163.7" r="1.3"/><circle cx="1039.2" cy="157.9" r="1.3"/><circle cx="1041.3" cy="165.1" r="1.3"/><circle cx="1043.4" cy="159.4" r="1.3"/><circle cx="1045.5" cy="165.5" r="1.3"/><circle cx="1047.6" cy="172.2" r="1.3"/><circle cx="1049.7" cy="166.5" r="1.3"/><circle cx="1051.8" cy="166.4" r="1.3"/><circle cx="1053.9" cy="168.4" r="1.3"/><circle cx="1056" cy="168.2" r="1.3"/><circle cx="1058.1" cy="168.5" r="1.3"/><circle cx="1060.2" cy="166.3" r="1.3"/><circle cx="1062.3" cy="172" r="1.3"/><circle cx="1064.4" cy="171.5" r="1.3"/><circle cx="1066.5" cy="168.3" r="1.3"/><circle cx="1068.6" cy="170" r="1.3"/><circle cx="1070.7" cy="171.1" r="1.3"/><circle cx="1072.8" cy="172.3" r="1.3"/><circle cx="1074.9" cy="170.4" r="1.3"/><circle cx="1077" cy="171.4" r="1.3"/><circle cx="1079.1" cy="168.6" r="1.3"/><circle cx="1081.2" cy="166.2" r="1.3"/><circle cx="1083.3" cy="168" r="1.3"/><circle cx="1085.4" cy="172.6" r="1.3"/><circle cx="1087.5" cy="172.5" r="1.3"/><circle cx="1089.6" cy="170" r="1.3"/></g>
<polygon points="901,166.6 902.5,166.7 904,166.7 905.5,166.7 907,166.7 908.5,166.7 910,166.8 911.5,166.8 913,166.8 914.5,166.8 916,166.8 917.5,166.8 919,166.8 920.5,166.8 922,166.8 923.5,166.8 925,166.8 926.5,166.8 928,166.8 929.5,166.8 931,166.8 932.5,166.7 934,166.7 935.5,166.6 937,166.5 938.5,166.3 940,166.2 941.5,166 943,165.7 944.5,165.4 946,165 947.5,164.5 949,163.9 950.5,163.2 952,162.4 953.5,161.5 955,160.4 956.5,159.1 958,157.7 959.5,156.1 961,154.2 962.5,152.1 964,149.8 965.5,147.3 967,144.6 968.5,141.6 970,138.4 971.5,135 973,131.4 974.5,127.7 976,123.8 977.5,119.9 979,116 980.5,112.1 982,108.2 983.5,104.5 985,101 986.5,97.7 988,94.7 989.5,92.1 991,89.9 992.5,88.2 994,87 995.5,86.2 997,86.1 998.5,86.4 1000,87.3 1001.5,88.8 1003,90.7 1004.5,93 1006,95.8 1007.5,98.9 1009,102.3 1010.5,106 1012,109.8 1013.5,113.7 1015,117.7 1016.5,121.7 1018,125.6 1019.5,129.5 1021,133.2 1022.5,136.8 1024,140.2 1025.5,143.4 1027,146.4 1028.5,149.1 1030,151.6 1031.5,153.9 1033,156 1034.5,157.8 1036,159.5 1037.5,160.9 1039,162.2 1040.5,163.3 1042,164.2 1043.5,165.1 1045,165.8 1046.5,166.4 1048,166.9 1049.5,167.3 1051,167.6 1052.5,167.9 1054,168.2 1055.5,168.4 1057,168.6 1058.5,168.7 1060,168.9 1061.5,169 1063,169.1 1064.5,169.1 1066,169.2 1067.5,169.3 1069,169.3 1070.5,169.4 1072,169.4 1073.5,169.5 1075,169.5 1076.5,169.6 1078,169.6 1079.5,169.7 1081,169.7 1082.5,169.7 1084,169.8 1085.5,169.8 1087,169.8 1088.5,169.9 1090,169.9 1091.5,169.9 1091.5,170.2 901,166.9" fill="#f9b3b3"/>
<polyline points="791.5,164.9 793,165 794.5,165 796,165 797.5,165 799,165.1 800.5,165.1 802,165.1 803.5,165.1 805,165.2 806.5,165.2 808,165.2 809.5,165.2 811,165.3 812.5,165.3 814,165.3 815.5,165.3 817,165.4 818.5,165.4 820,165.4 821.5,165.4 823,165.5 824.5,165.5 826,165.5 827.5,165.5 829,165.6 830.5,165.6 832,165.6 833.5,165.6 835,165.7 836.5,165.7 838,165.7 839.5,165.7 841,165.8 842.5,165.8 844,165.8 845.5,165.8 847,165.9 848.5,165.9 850,165.9 851.5,165.9 853,166 854.5,166 856,166 857.5,166 859,166 860.5,166.1 862,166.1 863.5,166.1 865,166.1 866.5,166.2 868,166.2 869.5,166.2 871,166.2 872.5,166.3 874,166.3 875.5,166.3 877,166.3 878.5,166.3 880,166.4 881.5,166.4 883,166.4 884.5,166.4 886,166.5 887.5,166.5 889,166.5 890.5,166.5 892,166.5 893.5,166.6 895,166.6 896.5,166.6 898,166.6 899.5,166.6 901,166.6 902.5,166.7 904,166.7 905.5,166.7 907,166.7 908.5,166.7 910,166.8 911.5,166.8 913,166.8 914.5,166.8 916,166.8 917.5,166.8 919,166.8 920.5,166.8 922,166.8 923.5,166.8 925,166.8 926.5,166.8 928,166.8 929.5,166.8 931,166.8 932.5,166.7 934,166.7 935.5,166.6 937,166.5 938.5,166.3 940,166.2 941.5,166 943,165.7 944.5,165.4 946,165 947.5,164.5 949,163.9 950.5,163.2 952,162.4 953.5,161.5 955,160.4 956.5,159.1 958,157.7 959.5,156.1 961,154.2 962.5,152.1 964,149.8 965.5,147.3 967,144.6 968.5,141.6 970,138.4 971.5,135 973,131.4 974.5,127.7 976,123.8 977.5,119.9 979,116 980.5,112.1 982,108.2 983.5,104.5 985,101 986.5,97.7 988,94.7 989.5,92.1 991,89.9 992.5,88.2 994,87 995.5,86.2 997,86.1 998.5,86.4 1000,87.3 1001.5,88.8 1003,90.7 1004.5,93 1006,95.8 1007.5,98.9 1009,102.3 1010.5,106 1012,109.8 1013.5,113.7 1015,117.7 1016.5,121.7 1018,125.6 1019.5,129.5 1021,133.2 1022.5,136.8 1024,140.2 1025.5,143.4 1027,146.4 1028.5,149.1 1030,151.6 1031.5,153.9 1033,156 1034.5,157.8 1036,159.5 1037.5,160.9 1039,162.2 1040.5,163.3 1042,164.2 1043.5,165.1 1045,165.8 1046.5,166.4 1048,166.9 1049.5,167.3 1051,167.6 1052.5,167.9 1054,168.2 1055.5,168.4 1057,168.6 1058.5,168.7 1060,168.9 1061.5,169 1063,169.1 1064.5,169.1 1066,169.2 1067.5,169.3 1069,169.3 1070.5,169.4 1072,169.4 1073.5,169.5 1075,169.5 1076.5,169.6 1078,169.6 1079.5,169.7 1081,169.7 1082.5,169.7 1084,169.8 1085.5,169.8 1087,169.8 1088.5,169.9 1090,169.9 1091.5,169.9" fill="none" stroke="#8a1a1a" stroke-width="1.5"/>
<path d="M791.5 165L1091.5 170.2" stroke="#cf2a3c" stroke-width="2.3"/>
<polyline points="901,166.6 902.5,166.7 904,166.7 905.5,166.7 907,166.7 908.5,166.7 910,166.8 911.5,166.8 913,166.8 914.5,166.8 916,166.8 917.5,166.8 919,166.8 920.5,166.8 922,166.8 923.5,166.8 925,166.8 926.5,166.8 928,166.8 929.5,166.8 931,166.8 932.5,166.7 934,166.7 935.5,166.6 937,166.5 938.5,166.3 940,166.2 941.5,166 943,165.7 944.5,165.4 946,165 947.5,164.5 949,163.9 950.5,163.2 952,162.4 953.5,161.5 955,160.4 956.5,159.1 958,157.7 959.5,156.1 961,154.2 962.5,152.1 964,149.8 965.5,147.3 967,144.6 968.5,141.6 970,138.4 971.5,135 973,131.4 974.5,127.7 976,123.8 977.5,119.9 979,116 980.5,112.1 982,108.2 983.5,104.5 985,101 986.5,97.7 988,94.7 989.5,92.1 991,89.9 992.5,88.2 994,87 995.5,86.2 997,86.1 998.5,86.4 1000,87.3 1001.5,88.8 1003,90.7 1004.5,93 1006,95.8 1007.5,98.9 1009,102.3 1010.5,106 1012,109.8 1013.5,113.7 1015,117.7 1016.5,121.7 1018,125.6 1019.5,129.5 1021,133.2 1022.5,136.8 1024,140.2 1025.5,143.4 1027,146.4 1028.5,149.1 1030,151.6 1031.5,153.9 1033,156 1034.5,157.8 1036,159.5 1037.5,160.9 1039,162.2 1040.5,163.3 1042,164.2 1043.5,165.1 1045,165.8 1046.5,166.4 1048,166.9 1049.5,167.3 1051,167.6 1052.5,167.9 1054,168.2 1055.5,168.4 1057,168.6 1058.5,168.7 1060,168.9 1061.5,169 1063,169.1 1064.5,169.1 1066,169.2 1067.5,169.3 1069,169.3 1070.5,169.4 1072,169.4 1073.5,169.5 1075,169.5 1076.5,169.6 1078,169.6 1079.5,169.7 1081,169.7 1082.5,169.7 1084,169.8 1085.5,169.8 1087,169.8 1088.5,169.9 1090,169.9 1091.5,169.9" fill="none" stroke="#cc1f2d" stroke-width="1.1"/>
<g fill="#fff" stroke="#cfcfcf" stroke-width="0.8"><circle cx="793.5" cy="291.9" r="1.3"/><circle cx="795.6" cy="282.8" r="1.3"/><circle cx="797.7" cy="286" r="1.3"/><circle cx="799.8" cy="285.3" r="1.3"/><circle cx="801.9" cy="287.3" r="1.3"/><circle cx="804" cy="280.6" r="1.3"/><circle cx="806.1" cy="283.6" r="1.3"/><circle cx="808.2" cy="282.6" r="1.3"/><circle cx="810.3" cy="281.6" r="1.3"/><circle cx="812.4" cy="282.3" r="1.3"/><circle cx="814.5" cy="283.3" r="1.3"/><circle cx="816.6" cy="284" r="1.3"/><circle cx="818.7" cy="282.1" r="1.3"/><circle cx="820.8" cy="286.1" r="1.3"/><circle cx="822.9" cy="283.2" r="1.3"/><circle cx="825" cy="275.2" r="1.3"/><circle cx="827.1" cy="288.4" r="1.3"/><circle cx="829.2" cy="283.7" r="1.3"/><circle cx="831.3" cy="282.6" r="1.3"/><circle cx="833.4" cy="285.6" r="1.3"/><circle cx="835.5" cy="285.5" r="1.3"/><circle cx="837.6" cy="285" r="1.3"/><circle cx="839.7" cy="282.3" r="1.3"/><circle cx="841.8" cy="285.4" r="1.3"/><circle cx="843.9" cy="280.2" r="1.3"/><circle cx="846" cy="289.2" r="1.3"/><circle cx="848.1" cy="281" r="1.3"/><circle cx="850.2" cy="284.2" r="1.3"/><circle cx="852.3" cy="284.9" r="1.3"/><circle cx="854.4" cy="285.5" r="1.3"/><circle cx="856.5" cy="284.1" r="1.3"/><circle cx="858.6" cy="286.3" r="1.3"/><circle cx="860.7" cy="273.9" r="1.3"/><circle cx="862.8" cy="284.1" r="1.3"/><circle cx="864.9" cy="283.9" r="1.3"/><circle cx="867" cy="283.1" r="1.3"/><circle cx="869.1" cy="289" r="1.3"/><circle cx="871.2" cy="281.5" r="1.3"/><circle cx="873.3" cy="284.1" r="1.3"/><circle cx="875.4" cy="278.3" r="1.3"/><circle cx="877.5" cy="285.2" r="1.3"/><circle cx="879.6" cy="279.5" r="1.3"/><circle cx="881.7" cy="279.6" r="1.3"/><circle cx="883.8" cy="291.5" r="1.3"/><circle cx="885.9" cy="286.5" r="1.3"/><circle cx="888" cy="284.3" r="1.3"/><circle cx="890.1" cy="284.9" r="1.3"/><circle cx="892.2" cy="280" r="1.3"/><circle cx="894.3" cy="281.1" r="1.3"/><circle cx="896.4" cy="285.6" r="1.3"/><circle cx="898.5" cy="277.9" r="1.3"/><circle cx="900.6" cy="285.1" r="1.3"/><circle cx="902.7" cy="279" r="1.3"/><circle cx="904.8" cy="284.6" r="1.3"/><circle cx="906.9" cy="280.9" r="1.3"/><circle cx="909" cy="289.6" r="1.3"/><circle cx="911.1" cy="287.3" r="1.3"/><circle cx="913.2" cy="282.6" r="1.3"/><circle cx="915.3" cy="278.4" r="1.3"/><circle cx="917.4" cy="281.8" r="1.3"/><circle cx="919.5" cy="284" r="1.3"/><circle cx="921.6" cy="281.1" r="1.3"/><circle cx="923.7" cy="284.9" r="1.3"/><circle cx="925.8" cy="287" r="1.3"/><circle cx="927.9" cy="283.7" r="1.3"/><circle cx="930" cy="282.4" r="1.3"/><circle cx="932.1" cy="285.9" r="1.3"/><circle cx="934.2" cy="282.4" r="1.3"/><circle cx="936.3" cy="285.7" r="1.3"/><circle cx="938.4" cy="281.7" r="1.3"/><circle cx="940.5" cy="287.2" r="1.3"/><circle cx="942.6" cy="280.9" r="1.3"/><circle cx="944.7" cy="277.8" r="1.3"/><circle cx="946.8" cy="280.4" r="1.3"/><circle cx="948.9" cy="277.1" r="1.3"/><circle cx="951" cy="274.9" r="1.3"/><circle cx="953.1" cy="275.8" r="1.3"/><circle cx="955.2" cy="276.6" r="1.3"/><circle cx="957.3" cy="265.6" r="1.3"/><circle cx="959.4" cy="269.5" r="1.3"/><circle cx="961.5" cy="266.3" r="1.3"/><circle cx="963.6" cy="263.1" r="1.3"/><circle cx="965.7" cy="262.4" r="1.3"/><circle cx="967.8" cy="252.1" r="1.3"/><circle cx="969.9" cy="253.9" r="1.3"/><circle cx="972" cy="246.7" r="1.3"/><circle cx="974.1" cy="243.1" r="1.3"/><circle cx="976.2" cy="237.3" r="1.3"/><circle cx="978.3" cy="232.1" r="1.3"/><circle cx="980.4" cy="226.8" r="1.3"/><circle cx="982.5" cy="225.1" r="1.3"/><circle cx="984.6" cy="226.1" r="1.3"/><circle cx="986.7" cy="219.1" r="1.3"/><circle cx="988.8" cy="215.2" r="1.3"/><circle cx="990.9" cy="211.7" r="1.3"/><circle cx="993" cy="206.6" r="1.3"/><circle cx="995.1" cy="208.8" r="1.3"/><circle cx="997.2" cy="213" r="1.3"/><circle cx="999.3" cy="203.4" r="1.3"/><circle cx="1001.4" cy="211.3" r="1.3"/><circle cx="1003.5" cy="214" r="1.3"/><circle cx="1005.6" cy="214.7" r="1.3"/><circle cx="1007.7" cy="219.7" r="1.3"/><circle cx="1009.8" cy="225.6" r="1.3"/><circle cx="1011.9" cy="232.4" r="1.3"/><circle cx="1014" cy="234.3" r="1.3"/><circle cx="1016.1" cy="240.2" r="1.3"/><circle cx="1018.2" cy="241" r="1.3"/><circle cx="1020.3" cy="247.2" r="1.3"/><circle cx="1022.4" cy="249.8" r="1.3"/><circle cx="1024.5" cy="254.6" r="1.3"/><circle cx="1026.6" cy="256.4" r="1.3"/><circle cx="1028.7" cy="263.7" r="1.3"/><circle cx="1030.8" cy="269.5" r="1.3"/><circle cx="1032.9" cy="267.7" r="1.3"/><circle cx="1035" cy="271.7" r="1.3"/><circle cx="1037.1" cy="275.2" r="1.3"/><circle cx="1039.2" cy="275.4" r="1.3"/><circle cx="1041.3" cy="279.9" r="1.3"/><circle cx="1043.4" cy="279.3" r="1.3"/><circle cx="1045.5" cy="276.2" r="1.3"/><circle cx="1047.6" cy="277.7" r="1.3"/><circle cx="1049.7" cy="283.8" r="1.3"/><circle cx="1051.8" cy="284.2" r="1.3"/><circle cx="1053.9" cy="286.1" r="1.3"/><circle cx="1056" cy="284" r="1.3"/><circle cx="1058.1" cy="284.2" r="1.3"/><circle cx="1060.2" cy="279" r="1.3"/><circle cx="1062.3" cy="288.2" r="1.3"/><circle cx="1064.4" cy="281.3" r="1.3"/><circle cx="1066.5" cy="287.4" r="1.3"/><circle cx="1068.6" cy="280.9" r="1.3"/><circle cx="1070.7" cy="282.4" r="1.3"/><circle cx="1072.8" cy="285" r="1.3"/><circle cx="1074.9" cy="283.2" r="1.3"/><circle cx="1077" cy="282.5" r="1.3"/><circle cx="1079.1" cy="287.3" r="1.3"/><circle cx="1081.2" cy="286.7" r="1.3"/><circle cx="1083.3" cy="285.9" r="1.3"/><circle cx="1085.4" cy="283.7" r="1.3"/><circle cx="1087.5" cy="282.2" r="1.3"/><circle cx="1089.6" cy="283.3" r="1.3"/></g>
<polygon points="892,285 893.5,285 895,285 896.5,285 898,285 899.5,285 901,285 902.5,285 904,285 905.5,285 907,285 908.5,284.9 910,284.9 911.5,284.9 913,284.9 914.5,284.9 916,284.9 917.5,284.9 919,284.8 920.5,284.8 922,284.8 923.5,284.7 925,284.7 926.5,284.6 928,284.5 929.5,284.4 931,284.3 932.5,284.2 934,284.1 935.5,283.9 937,283.7 938.5,283.4 940,283.1 941.5,282.7 943,282.3 944.5,281.8 946,281.2 947.5,280.5 949,279.7 950.5,278.8 952,277.7 953.5,276.5 955,275.2 956.5,273.7 958,272 959.5,270.2 961,268.2 962.5,266 964,263.6 965.5,261 967,258.3 968.5,255.4 970,252.3 971.5,249.2 973,245.9 974.5,242.5 976,239.1 977.5,235.6 979,232.2 980.5,228.9 982,225.6 983.5,222.5 985,219.6 986.5,216.8 988,214.4 989.5,212.3 991,210.5 992.5,209.1 994,208.1 995.5,207.5 997,207.3 998.5,207.6 1000,208.3 1001.5,209.4 1003,210.9 1004.5,212.8 1006,215 1007.5,217.6 1009,220.3 1010.5,223.3 1012,226.5 1013.5,229.8 1015,233.2 1016.5,236.6 1018,240 1019.5,243.4 1021,246.8 1022.5,250.1 1024,253.2 1025.5,256.2 1027,259.1 1028.5,261.8 1030,264.3 1031.5,266.6 1033,268.8 1034.5,270.8 1036,272.5 1037.5,274.2 1039,275.6 1040.5,276.9 1042,278.1 1043.5,279.1 1045,280 1046.5,280.7 1048,281.4 1049.5,282 1051,282.5 1052.5,282.9 1054,283.2 1055.5,283.5 1057,283.8 1058.5,284 1060,284.2 1061.5,284.3 1063,284.5 1064.5,284.6 1066,284.7 1067.5,284.7 1069,284.8 1070.5,284.8 1072,284.9 1073.5,284.9 1075,284.9 1076.5,285 1078,285 1079.5,285 1081,285 1082.5,285 1084,285.1 1085.5,285.1 1087,285.1 1088.5,285.1 1090,285.1 1091.5,285.1 1091.5,285.4 892,285.3" fill="#f9b3b3"/>
<polyline points="791.5,285.1 793,285.1 794.5,285.1 796,285.1 797.5,285.1 799,285.1 800.5,285.1 802,285.1 803.5,285.1 805,285.1 806.5,285.1 808,285.1 809.5,285.1 811,285.1 812.5,285.1 814,285.1 815.5,285.1 817,285.1 818.5,285.1 820,285.1 821.5,285.1 823,285.1 824.5,285.1 826,285.1 827.5,285.1 829,285.1 830.5,285.1 832,285.1 833.5,285.1 835,285.1 836.5,285.1 838,285.1 839.5,285.1 841,285.1 842.5,285.1 844,285.1 845.5,285.1 847,285.1 848.5,285.1 850,285.1 851.5,285.1 853,285.1 854.5,285.1 856,285.1 857.5,285.1 859,285.1 860.5,285.1 862,285.1 863.5,285.1 865,285.1 866.5,285.1 868,285.1 869.5,285.1 871,285.1 872.5,285.1 874,285.1 875.5,285.1 877,285.1 878.5,285.1 880,285.1 881.5,285.1 883,285.1 884.5,285.1 886,285.1 887.5,285 889,285 890.5,285 892,285 893.5,285 895,285 896.5,285 898,285 899.5,285 901,285 902.5,285 904,285 905.5,285 907,285 908.5,284.9 910,284.9 911.5,284.9 913,284.9 914.5,284.9 916,284.9 917.5,284.9 919,284.8 920.5,284.8 922,284.8 923.5,284.7 925,284.7 926.5,284.6 928,284.5 929.5,284.4 931,284.3 932.5,284.2 934,284.1 935.5,283.9 937,283.7 938.5,283.4 940,283.1 941.5,282.7 943,282.3 944.5,281.8 946,281.2 947.5,280.5 949,279.7 950.5,278.8 952,277.7 953.5,276.5 955,275.2 956.5,273.7 958,272 959.5,270.2 961,268.2 962.5,266 964,263.6 965.5,261 967,258.3 968.5,255.4 970,252.3 971.5,249.2 973,245.9 974.5,242.5 976,239.1 977.5,235.6 979,232.2 980.5,228.9 982,225.6 983.5,222.5 985,219.6 986.5,216.8 988,214.4 989.5,212.3 991,210.5 992.5,209.1 994,208.1 995.5,207.5 997,207.3 998.5,207.6 1000,208.3 1001.5,209.4 1003,210.9 1004.5,212.8 1006,215 1007.5,217.6 1009,220.3 1010.5,223.3 1012,226.5 1013.5,229.8 1015,233.2 1016.5,236.6 1018,240 1019.5,243.4 1021,246.8 1022.5,250.1 1024,253.2 1025.5,256.2 1027,259.1 1028.5,261.8 1030,264.3 1031.5,266.6 1033,268.8 1034.5,270.8 1036,272.5 1037.5,274.2 1039,275.6 1040.5,276.9 1042,278.1 1043.5,279.1 1045,280 1046.5,280.7 1048,281.4 1049.5,282 1051,282.5 1052.5,282.9 1054,283.2 1055.5,283.5 1057,283.8 1058.5,284 1060,284.2 1061.5,284.3 1063,284.5 1064.5,284.6 1066,284.7 1067.5,284.7 1069,284.8 1070.5,284.8 1072,284.9 1073.5,284.9 1075,284.9 1076.5,285 1078,285 1079.5,285 1081,285 1082.5,285 1084,285.1 1085.5,285.1 1087,285.1 1088.5,285.1 1090,285.1 1091.5,285.1" fill="none" stroke="#8a1a1a" stroke-width="1.5"/>
<path d="M791.5 285.2L1091.5 285.4" stroke="#cf2a3c" stroke-width="2.3"/>
<polyline points="892,285 893.5,285 895,285 896.5,285 898,285 899.5,285 901,285 902.5,285 904,285 905.5,285 907,285 908.5,284.9 910,284.9 911.5,284.9 913,284.9 914.5,284.9 916,284.9 917.5,284.9 919,284.8 920.5,284.8 922,284.8 923.5,284.7 925,284.7 926.5,284.6 928,284.5 929.5,284.4 931,284.3 932.5,284.2 934,284.1 935.5,283.9 937,283.7 938.5,283.4 940,283.1 941.5,282.7 943,282.3 944.5,281.8 946,281.2 947.5,280.5 949,279.7 950.5,278.8 952,277.7 953.5,276.5 955,275.2 956.5,273.7 958,272 959.5,270.2 961,268.2 962.5,266 964,263.6 965.5,261 967,258.3 968.5,255.4 970,252.3 971.5,249.2 973,245.9 974.5,242.5 976,239.1 977.5,235.6 979,232.2 980.5,228.9 982,225.6 983.5,222.5 985,219.6 986.5,216.8 988,214.4 989.5,212.3 991,210.5 992.5,209.1 994,208.1 995.5,207.5 997,207.3 998.5,207.6 1000,208.3 1001.5,209.4 1003,210.9 1004.5,212.8 1006,215 1007.5,217.6 1009,220.3 1010.5,223.3 1012,226.5 1013.5,229.8 1015,233.2 1016.5,236.6 1018,240 1019.5,243.4 1021,246.8 1022.5,250.1 1024,253.2 1025.5,256.2 1027,259.1 1028.5,261.8 1030,264.3 1031.5,266.6 1033,268.8 1034.5,270.8 1036,272.5 1037.5,274.2 1039,275.6 1040.5,276.9 1042,278.1 1043.5,279.1 1045,280 1046.5,280.7 1048,281.4 1049.5,282 1051,282.5 1052.5,282.9 1054,283.2 1055.5,283.5 1057,283.8 1058.5,284 1060,284.2 1061.5,284.3 1063,284.5 1064.5,284.6 1066,284.7 1067.5,284.7 1069,284.8 1070.5,284.8 1072,284.9 1073.5,284.9 1075,284.9 1076.5,285 1078,285 1079.5,285 1081,285 1082.5,285 1084,285.1 1085.5,285.1 1087,285.1 1088.5,285.1 1090,285.1 1091.5,285.1" fill="none" stroke="#cc1f2d" stroke-width="1.1"/>
<g fill="#fff" stroke="#cfcfcf" stroke-width="0.8"><circle cx="793.5" cy="396.9" r="1.3"/><circle cx="795.6" cy="400.4" r="1.3"/><circle cx="797.7" cy="393.9" r="1.3"/><circle cx="799.8" cy="399.7" r="1.3"/><circle cx="801.9" cy="395.9" r="1.3"/><circle cx="804" cy="395.9" r="1.3"/><circle cx="806.1" cy="402.4" r="1.3"/><circle cx="808.2" cy="397.2" r="1.3"/><circle cx="810.3" cy="396.6" r="1.3"/><circle cx="812.4" cy="398.9" r="1.3"/><circle cx="814.5" cy="400.1" r="1.3"/><circle cx="816.6" cy="396.7" r="1.3"/><circle cx="818.7" cy="398.5" r="1.3"/><circle cx="820.8" cy="393.8" r="1.3"/><circle cx="822.9" cy="395.7" r="1.3"/><circle cx="825" cy="395.5" r="1.3"/><circle cx="827.1" cy="392.8" r="1.3"/><circle cx="829.2" cy="392.3" r="1.3"/><circle cx="831.3" cy="391.9" r="1.3"/><circle cx="833.4" cy="396.1" r="1.3"/><circle cx="835.5" cy="396.3" r="1.3"/><circle cx="837.6" cy="395.9" r="1.3"/><circle cx="839.7" cy="397" r="1.3"/><circle cx="841.8" cy="392.8" r="1.3"/><circle cx="843.9" cy="396.6" r="1.3"/><circle cx="846" cy="397.6" r="1.3"/><circle cx="848.1" cy="399.1" r="1.3"/><circle cx="850.2" cy="394.3" r="1.3"/><circle cx="852.3" cy="395.7" r="1.3"/><circle cx="854.4" cy="390.8" r="1.3"/><circle cx="856.5" cy="395.4" r="1.3"/><circle cx="858.6" cy="390.3" r="1.3"/><circle cx="860.7" cy="392.6" r="1.3"/><circle cx="862.8" cy="400.2" r="1.3"/><circle cx="864.9" cy="390.3" r="1.3"/><circle cx="867" cy="399.3" r="1.3"/><circle cx="869.1" cy="397.9" r="1.3"/><circle cx="871.2" cy="396" r="1.3"/><circle cx="873.3" cy="398.3" r="1.3"/><circle cx="875.4" cy="398.5" r="1.3"/><circle cx="877.5" cy="400.1" r="1.3"/><circle cx="879.6" cy="396.2" r="1.3"/><circle cx="881.7" cy="395.2" r="1.3"/><circle cx="883.8" cy="395.1" r="1.3"/><circle cx="885.9" cy="394" r="1.3"/><circle cx="888" cy="396.8" r="1.3"/><circle cx="890.1" cy="394.6" r="1.3"/><circle cx="892.2" cy="400.2" r="1.3"/><circle cx="894.3" cy="391.3" r="1.3"/><circle cx="896.4" cy="393.7" r="1.3"/><circle cx="898.5" cy="394.1" r="1.3"/><circle cx="900.6" cy="390.7" r="1.3"/><circle cx="902.7" cy="402.7" r="1.3"/><circle cx="904.8" cy="389.7" r="1.3"/><circle cx="906.9" cy="396.1" r="1.3"/><circle cx="909" cy="395.4" r="1.3"/><circle cx="911.1" cy="401.9" r="1.3"/><circle cx="913.2" cy="391" r="1.3"/><circle cx="915.3" cy="400.1" r="1.3"/><circle cx="917.4" cy="394.7" r="1.3"/><circle cx="919.5" cy="396.4" r="1.3"/><circle cx="921.6" cy="394.9" r="1.3"/><circle cx="923.7" cy="398.8" r="1.3"/><circle cx="925.8" cy="393.4" r="1.3"/><circle cx="927.9" cy="396.5" r="1.3"/><circle cx="930" cy="397.7" r="1.3"/><circle cx="932.1" cy="402.1" r="1.3"/><circle cx="934.2" cy="389.2" r="1.3"/><circle cx="936.3" cy="400.9" r="1.3"/><circle cx="938.4" cy="398.9" r="1.3"/><circle cx="940.5" cy="394.3" r="1.3"/><circle cx="942.6" cy="396.3" r="1.3"/><circle cx="944.7" cy="393.4" r="1.3"/><circle cx="946.8" cy="399.1" r="1.3"/><circle cx="948.9" cy="393.9" r="1.3"/><circle cx="951" cy="391.6" r="1.3"/><circle cx="953.1" cy="390.2" r="1.3"/><circle cx="955.2" cy="388.7" r="1.3"/><circle cx="957.3" cy="386.8" r="1.3"/><circle cx="959.4" cy="382.4" r="1.3"/><circle cx="961.5" cy="388.6" r="1.3"/><circle cx="963.6" cy="373.6" r="1.3"/><circle cx="965.7" cy="365" r="1.3"/><circle cx="967.8" cy="371.5" r="1.3"/><circle cx="969.9" cy="367.1" r="1.3"/><circle cx="972" cy="364" r="1.3"/><circle cx="974.1" cy="357.3" r="1.3"/><circle cx="976.2" cy="352.3" r="1.3"/><circle cx="978.3" cy="348.5" r="1.3"/><circle cx="980.4" cy="345.1" r="1.3"/><circle cx="982.5" cy="335.8" r="1.3"/><circle cx="984.6" cy="331.2" r="1.3"/><circle cx="986.7" cy="333.8" r="1.3"/><circle cx="988.8" cy="325.8" r="1.3"/><circle cx="990.9" cy="318.2" r="1.3"/><circle cx="993" cy="325.9" r="1.3"/><circle cx="995.1" cy="320" r="1.3"/><circle cx="997.2" cy="315.6" r="1.3"/><circle cx="999.3" cy="314.5" r="1.3"/><circle cx="1001.4" cy="320.6" r="1.3"/><circle cx="1003.5" cy="319.8" r="1.3"/><circle cx="1005.6" cy="322.5" r="1.3"/><circle cx="1007.7" cy="325.8" r="1.3"/><circle cx="1009.8" cy="332.7" r="1.3"/><circle cx="1011.9" cy="342.5" r="1.3"/><circle cx="1014" cy="343.1" r="1.3"/><circle cx="1016.1" cy="345.3" r="1.3"/><circle cx="1018.2" cy="356.9" r="1.3"/><circle cx="1020.3" cy="360.2" r="1.3"/><circle cx="1022.4" cy="367.4" r="1.3"/><circle cx="1024.5" cy="373.1" r="1.3"/><circle cx="1026.6" cy="373.2" r="1.3"/><circle cx="1028.7" cy="377" r="1.3"/><circle cx="1030.8" cy="380.7" r="1.3"/><circle cx="1032.9" cy="380.4" r="1.3"/><circle cx="1035" cy="388.4" r="1.3"/><circle cx="1037.1" cy="392.6" r="1.3"/><circle cx="1039.2" cy="390.9" r="1.3"/><circle cx="1041.3" cy="391.2" r="1.3"/><circle cx="1043.4" cy="392.3" r="1.3"/><circle cx="1045.5" cy="391.8" r="1.3"/><circle cx="1047.6" cy="392.5" r="1.3"/><circle cx="1049.7" cy="394.3" r="1.3"/><circle cx="1051.8" cy="393.5" r="1.3"/><circle cx="1053.9" cy="395.1" r="1.3"/><circle cx="1056" cy="392" r="1.3"/><circle cx="1058.1" cy="398" r="1.3"/><circle cx="1060.2" cy="397.3" r="1.3"/><circle cx="1062.3" cy="393.8" r="1.3"/><circle cx="1064.4" cy="390.5" r="1.3"/><circle cx="1066.5" cy="397.4" r="1.3"/><circle cx="1068.6" cy="400.8" r="1.3"/><circle cx="1070.7" cy="395.4" r="1.3"/><circle cx="1072.8" cy="396.1" r="1.3"/><circle cx="1074.9" cy="395.9" r="1.3"/><circle cx="1077" cy="399.6" r="1.3"/><circle cx="1079.1" cy="395" r="1.3"/><circle cx="1081.2" cy="400.7" r="1.3"/><circle cx="1083.3" cy="396.8" r="1.3"/><circle cx="1085.4" cy="400.6" r="1.3"/><circle cx="1087.5" cy="397.9" r="1.3"/><circle cx="1089.6" cy="397.1" r="1.3"/></g>
<polygon points="898,397.3 899.5,397.3 901,397.3 902.5,397.3 904,397.3 905.5,397.3 907,397.3 908.5,397.3 910,397.2 911.5,397.2 913,397.2 914.5,397.2 916,397.2 917.5,397.2 919,397.2 920.5,397.2 922,397.2 923.5,397.2 925,397.1 926.5,397.1 928,397.1 929.5,397 931,396.9 932.5,396.9 934,396.8 935.5,396.7 937,396.5 938.5,396.3 940,396.1 941.5,395.9 943,395.6 944.5,395.2 946,394.7 947.5,394.2 949,393.6 950.5,392.8 952,391.9 953.5,390.9 955,389.8 956.5,388.5 958,387 959.5,385.3 961,383.4 962.5,381.3 964,379 965.5,376.4 967,373.7 968.5,370.7 970,367.6 971.5,364.3 973,360.8 974.5,357.2 976,353.5 977.5,349.8 979,346 980.5,342.3 982,338.6 983.5,335.1 985,331.7 986.5,328.6 988,325.8 989.5,323.4 991,321.3 992.5,319.7 994,318.5 995.5,317.8 997,317.7 998.5,318 1000,318.8 1001.5,320.1 1003,321.9 1004.5,324.1 1006,326.7 1007.5,329.5 1009,332.7 1010.5,336.1 1012,339.7 1013.5,343.4 1015,347.2 1016.5,351 1018,354.7 1019.5,358.4 1021,362 1022.5,365.4 1024,368.7 1025.5,371.8 1027,374.7 1028.5,377.4 1030,379.9 1031.5,382.2 1033,384.2 1034.5,386.1 1036,387.7 1037.5,389.2 1039,390.5 1040.5,391.6 1042,392.6 1043.5,393.5 1045,394.2 1046.5,394.8 1048,395.3 1049.5,395.8 1051,396.2 1052.5,396.5 1054,396.7 1055.5,396.9 1057,397.1 1058.5,397.3 1060,397.4 1061.5,397.5 1063,397.6 1064.5,397.7 1066,397.7 1067.5,397.8 1069,397.8 1070.5,397.8 1072,397.9 1073.5,397.9 1075,397.9 1076.5,398 1078,398 1079.5,398 1081,398 1082.5,398 1084,398.1 1085.5,398.1 1087,398.1 1088.5,398.1 1090,398.1 1091.5,398.1 1091.5,398.4 898,397.5" fill="#f9b3b3"/>
<polyline points="791.5,396.9 793,396.9 794.5,397 796,397 797.5,397 799,397 800.5,397 802,397 803.5,397 805,397 806.5,397 808,397 809.5,397 811,397 812.5,397 814,397 815.5,397 817,397 818.5,397.1 820,397.1 821.5,397.1 823,397.1 824.5,397.1 826,397.1 827.5,397.1 829,397.1 830.5,397.1 832,397.1 833.5,397.1 835,397.1 836.5,397.1 838,397.1 839.5,397.1 841,397.1 842.5,397.1 844,397.1 845.5,397.1 847,397.2 848.5,397.2 850,397.2 851.5,397.2 853,397.2 854.5,397.2 856,397.2 857.5,397.2 859,397.2 860.5,397.2 862,397.2 863.5,397.2 865,397.2 866.5,397.2 868,397.2 869.5,397.2 871,397.2 872.5,397.2 874,397.2 875.5,397.2 877,397.2 878.5,397.2 880,397.2 881.5,397.2 883,397.2 884.5,397.2 886,397.3 887.5,397.3 889,397.3 890.5,397.3 892,397.3 893.5,397.3 895,397.3 896.5,397.3 898,397.3 899.5,397.3 901,397.3 902.5,397.3 904,397.3 905.5,397.3 907,397.3 908.5,397.3 910,397.2 911.5,397.2 913,397.2 914.5,397.2 916,397.2 917.5,397.2 919,397.2 920.5,397.2 922,397.2 923.5,397.2 925,397.1 926.5,397.1 928,397.1 929.5,397 931,396.9 932.5,396.9 934,396.8 935.5,396.7 937,396.5 938.5,396.3 940,396.1 941.5,395.9 943,395.6 944.5,395.2 946,394.7 947.5,394.2 949,393.6 950.5,392.8 952,391.9 953.5,390.9 955,389.8 956.5,388.5 958,387 959.5,385.3 961,383.4 962.5,381.3 964,379 965.5,376.4 967,373.7 968.5,370.7 970,367.6 971.5,364.3 973,360.8 974.5,357.2 976,353.5 977.5,349.8 979,346 980.5,342.3 982,338.6 983.5,335.1 985,331.7 986.5,328.6 988,325.8 989.5,323.4 991,321.3 992.5,319.7 994,318.5 995.5,317.8 997,317.7 998.5,318 1000,318.8 1001.5,320.1 1003,321.9 1004.5,324.1 1006,326.7 1007.5,329.5 1009,332.7 1010.5,336.1 1012,339.7 1013.5,343.4 1015,347.2 1016.5,351 1018,354.7 1019.5,358.4 1021,362 1022.5,365.4 1024,368.7 1025.5,371.8 1027,374.7 1028.5,377.4 1030,379.9 1031.5,382.2 1033,384.2 1034.5,386.1 1036,387.7 1037.5,389.2 1039,390.5 1040.5,391.6 1042,392.6 1043.5,393.5 1045,394.2 1046.5,394.8 1048,395.3 1049.5,395.8 1051,396.2 1052.5,396.5 1054,396.7 1055.5,396.9 1057,397.1 1058.5,397.3 1060,397.4 1061.5,397.5 1063,397.6 1064.5,397.7 1066,397.7 1067.5,397.8 1069,397.8 1070.5,397.8 1072,397.9 1073.5,397.9 1075,397.9 1076.5,398 1078,398 1079.5,398 1081,398 1082.5,398 1084,398.1 1085.5,398.1 1087,398.1 1088.5,398.1 1090,398.1 1091.5,398.1" fill="none" stroke="#8a1a1a" stroke-width="1.5"/>
<path d="M791.5 397L1091.5 398.4" stroke="#cf2a3c" stroke-width="2.3"/>
<polyline points="898,397.3 899.5,397.3 901,397.3 902.5,397.3 904,397.3 905.5,397.3 907,397.3 908.5,397.3 910,397.2 911.5,397.2 913,397.2 914.5,397.2 916,397.2 917.5,397.2 919,397.2 920.5,397.2 922,397.2 923.5,397.2 925,397.1 926.5,397.1 928,397.1 929.5,397 931,396.9 932.5,396.9 934,396.8 935.5,396.7 937,396.5 938.5,396.3 940,396.1 941.5,395.9 943,395.6 944.5,395.2 946,394.7 947.5,394.2 949,393.6 950.5,392.8 952,391.9 953.5,390.9 955,389.8 956.5,388.5 958,387 959.5,385.3 961,383.4 962.5,381.3 964,379 965.5,376.4 967,373.7 968.5,370.7 970,367.6 971.5,364.3 973,360.8 974.5,357.2 976,353.5 977.5,349.8 979,346 980.5,342.3 982,338.6 983.5,335.1 985,331.7 986.5,328.6 988,325.8 989.5,323.4 991,321.3 992.5,319.7 994,318.5 995.5,317.8 997,317.7 998.5,318 1000,318.8 1001.5,320.1 1003,321.9 1004.5,324.1 1006,326.7 1007.5,329.5 1009,332.7 1010.5,336.1 1012,339.7 1013.5,343.4 1015,347.2 1016.5,351 1018,354.7 1019.5,358.4 1021,362 1022.5,365.4 1024,368.7 1025.5,371.8 1027,374.7 1028.5,377.4 1030,379.9 1031.5,382.2 1033,384.2 1034.5,386.1 1036,387.7 1037.5,389.2 1039,390.5 1040.5,391.6 1042,392.6 1043.5,393.5 1045,394.2 1046.5,394.8 1048,395.3 1049.5,395.8 1051,396.2 1052.5,396.5 1054,396.7 1055.5,396.9 1057,397.1 1058.5,397.3 1060,397.4 1061.5,397.5 1063,397.6 1064.5,397.7 1066,397.7 1067.5,397.8 1069,397.8 1070.5,397.8 1072,397.9 1073.5,397.9 1075,397.9 1076.5,398 1078,398 1079.5,398 1081,398 1082.5,398 1084,398.1 1085.5,398.1 1087,398.1 1088.5,398.1 1090,398.1 1091.5,398.1" fill="none" stroke="#cc1f2d" stroke-width="1.1"/>
<g fill="#fff" stroke="#cfcfcf" stroke-width="0.8"><circle cx="793.5" cy="511.7" r="1.3"/><circle cx="795.6" cy="513" r="1.3"/><circle cx="797.7" cy="510.2" r="1.3"/><circle cx="799.8" cy="512.6" r="1.3"/><circle cx="801.9" cy="514.3" r="1.3"/><circle cx="804" cy="512.7" r="1.3"/><circle cx="806.1" cy="516.2" r="1.3"/><circle cx="808.2" cy="508.8" r="1.3"/><circle cx="810.3" cy="511.7" r="1.3"/><circle cx="812.4" cy="509.3" r="1.3"/><circle cx="814.5" cy="509.1" r="1.3"/><circle cx="816.6" cy="510.9" r="1.3"/><circle cx="818.7" cy="512" r="1.3"/><circle cx="820.8" cy="512.6" r="1.3"/><circle cx="822.9" cy="512.9" r="1.3"/><circle cx="825" cy="518" r="1.3"/><circle cx="827.1" cy="513.9" r="1.3"/><circle cx="829.2" cy="506.5" r="1.3"/><circle cx="831.3" cy="511.8" r="1.3"/><circle cx="833.4" cy="509.3" r="1.3"/><circle cx="835.5" cy="509.6" r="1.3"/><circle cx="837.6" cy="515" r="1.3"/><circle cx="839.7" cy="510.3" r="1.3"/><circle cx="841.8" cy="505.1" r="1.3"/><circle cx="843.9" cy="511.8" r="1.3"/><circle cx="846" cy="509.9" r="1.3"/><circle cx="848.1" cy="507.2" r="1.3"/><circle cx="850.2" cy="507.9" r="1.3"/><circle cx="852.3" cy="508.6" r="1.3"/><circle cx="854.4" cy="510.3" r="1.3"/><circle cx="856.5" cy="509" r="1.3"/><circle cx="858.6" cy="510.4" r="1.3"/><circle cx="860.7" cy="515.5" r="1.3"/><circle cx="862.8" cy="507.5" r="1.3"/><circle cx="864.9" cy="507.3" r="1.3"/><circle cx="867" cy="508.7" r="1.3"/><circle cx="869.1" cy="512.6" r="1.3"/><circle cx="871.2" cy="507" r="1.3"/><circle cx="873.3" cy="513.1" r="1.3"/><circle cx="875.4" cy="504.7" r="1.3"/><circle cx="877.5" cy="505.2" r="1.3"/><circle cx="879.6" cy="507.8" r="1.3"/><circle cx="881.7" cy="505.1" r="1.3"/><circle cx="883.8" cy="505.5" r="1.3"/><circle cx="885.9" cy="508.4" r="1.3"/><circle cx="888" cy="508.8" r="1.3"/><circle cx="890.1" cy="506.6" r="1.3"/><circle cx="892.2" cy="505" r="1.3"/><circle cx="894.3" cy="509.4" r="1.3"/><circle cx="896.4" cy="506.2" r="1.3"/><circle cx="898.5" cy="503.8" r="1.3"/><circle cx="900.6" cy="507.7" r="1.3"/><circle cx="902.7" cy="500.8" r="1.3"/><circle cx="904.8" cy="503.5" r="1.3"/><circle cx="906.9" cy="504.5" r="1.3"/><circle cx="909" cy="502" r="1.3"/><circle cx="911.1" cy="499.8" r="1.3"/><circle cx="913.2" cy="502" r="1.3"/><circle cx="915.3" cy="498.8" r="1.3"/><circle cx="917.4" cy="498.2" r="1.3"/><circle cx="919.5" cy="496.4" r="1.3"/><circle cx="921.6" cy="502.9" r="1.3"/><circle cx="923.7" cy="496.9" r="1.3"/><circle cx="925.8" cy="501.6" r="1.3"/><circle cx="927.9" cy="498.9" r="1.3"/><circle cx="930" cy="496.6" r="1.3"/><circle cx="932.1" cy="499.1" r="1.3"/><circle cx="934.2" cy="497.6" r="1.3"/><circle cx="936.3" cy="497" r="1.3"/><circle cx="938.4" cy="492.3" r="1.3"/><circle cx="940.5" cy="496.6" r="1.3"/><circle cx="942.6" cy="499" r="1.3"/><circle cx="944.7" cy="497.8" r="1.3"/><circle cx="946.8" cy="499.5" r="1.3"/><circle cx="948.9" cy="500.4" r="1.3"/><circle cx="951" cy="496.2" r="1.3"/><circle cx="953.1" cy="499.6" r="1.3"/><circle cx="955.2" cy="487.1" r="1.3"/><circle cx="957.3" cy="488.2" r="1.3"/><circle cx="959.4" cy="478.1" r="1.3"/><circle cx="961.5" cy="486.1" r="1.3"/><circle cx="963.6" cy="481.5" r="1.3"/><circle cx="965.7" cy="483.5" r="1.3"/><circle cx="967.8" cy="474.1" r="1.3"/><circle cx="969.9" cy="465.5" r="1.3"/><circle cx="972" cy="471.4" r="1.3"/><circle cx="974.1" cy="459.2" r="1.3"/><circle cx="976.2" cy="454.8" r="1.3"/><circle cx="978.3" cy="453.4" r="1.3"/><circle cx="980.4" cy="451" r="1.3"/><circle cx="982.5" cy="442.9" r="1.3"/><circle cx="984.6" cy="440.5" r="1.3"/><circle cx="986.7" cy="430.2" r="1.3"/><circle cx="988.8" cy="437.5" r="1.3"/><circle cx="990.9" cy="429.3" r="1.3"/><circle cx="993" cy="427.8" r="1.3"/><circle cx="995.1" cy="428.2" r="1.3"/><circle cx="997.2" cy="426.9" r="1.3"/><circle cx="999.3" cy="427.9" r="1.3"/><circle cx="1001.4" cy="426.6" r="1.3"/><circle cx="1003.5" cy="431.9" r="1.3"/><circle cx="1005.6" cy="437.3" r="1.3"/><circle cx="1007.7" cy="443.5" r="1.3"/><circle cx="1009.8" cy="444.9" r="1.3"/><circle cx="1011.9" cy="450.7" r="1.3"/><circle cx="1014" cy="456.9" r="1.3"/><circle cx="1016.1" cy="463.1" r="1.3"/><circle cx="1018.2" cy="467.4" r="1.3"/><circle cx="1020.3" cy="471.2" r="1.3"/><circle cx="1022.4" cy="475.4" r="1.3"/><circle cx="1024.5" cy="484.9" r="1.3"/><circle cx="1026.6" cy="486.7" r="1.3"/><circle cx="1028.7" cy="489.7" r="1.3"/><circle cx="1030.8" cy="503.5" r="1.3"/><circle cx="1032.9" cy="498.7" r="1.3"/><circle cx="1035" cy="501.2" r="1.3"/><circle cx="1037.1" cy="501.3" r="1.3"/><circle cx="1039.2" cy="499.7" r="1.3"/><circle cx="1041.3" cy="507.7" r="1.3"/><circle cx="1043.4" cy="505.3" r="1.3"/><circle cx="1045.5" cy="506.8" r="1.3"/><circle cx="1047.6" cy="510.5" r="1.3"/><circle cx="1049.7" cy="511.2" r="1.3"/><circle cx="1051.8" cy="509.4" r="1.3"/><circle cx="1053.9" cy="509.2" r="1.3"/><circle cx="1056" cy="515.8" r="1.3"/><circle cx="1058.1" cy="511.5" r="1.3"/><circle cx="1060.2" cy="506.9" r="1.3"/><circle cx="1062.3" cy="512.4" r="1.3"/><circle cx="1064.4" cy="510.7" r="1.3"/><circle cx="1066.5" cy="510.5" r="1.3"/><circle cx="1068.6" cy="512.6" r="1.3"/><circle cx="1070.7" cy="511.3" r="1.3"/><circle cx="1072.8" cy="516.7" r="1.3"/><circle cx="1074.9" cy="511.4" r="1.3"/><circle cx="1077" cy="511.6" r="1.3"/><circle cx="1079.1" cy="514.3" r="1.3"/><circle cx="1081.2" cy="509.2" r="1.3"/><circle cx="1083.3" cy="514" r="1.3"/><circle cx="1085.4" cy="510.8" r="1.3"/><circle cx="1087.5" cy="514.6" r="1.3"/><circle cx="1089.6" cy="508.5" r="1.3"/></g>
<polygon points="830.5,511.5 832,511.5 833.5,511.5 835,511.4 836.5,511.4 838,511.3 839.5,511.3 841,511.3 842.5,511.2 844,511.2 845.5,511.1 847,511.1 848.5,511 850,510.9 851.5,510.9 853,510.8 854.5,510.7 856,510.6 857.5,510.5 859,510.4 860.5,510.3 862,510.2 863.5,510.1 865,510 866.5,509.8 868,509.7 869.5,509.6 871,509.4 872.5,509.2 874,509.1 875.5,508.9 877,508.7 878.5,508.5 880,508.2 881.5,508 883,507.8 884.5,507.5 886,507.3 887.5,507 889,506.7 890.5,506.5 892,506.2 893.5,505.9 895,505.6 896.5,505.2 898,504.9 899.5,504.6 901,504.2 902.5,503.9 904,503.5 905.5,503.2 907,502.8 908.5,502.4 910,502.1 911.5,501.7 913,501.3 914.5,501 916,500.6 917.5,500.2 919,499.9 920.5,499.5 922,499.2 923.5,498.9 925,498.6 926.5,498.3 928,498 929.5,497.8 931,497.5 932.5,497.3 934,497.1 935.5,497 937,496.8 938.5,496.7 940,496.7 941.5,496.6 943,496.6 944.5,496.6 946,496.7 947.5,496.9 949,497.1 950.5,497.3 952,497.6 953.5,498 955,498.4 956.5,498.8 958,499.2 959.5,499.7 961,500.2 962.5,500.7 964,501.2 965.5,501.7 967,502.3 968.5,502.8 970,503.3 971.5,503.8 973,504.3 974.5,504.8 976,505.2 977.5,505.7 979,506.1 980.5,506.5 982,506.9 983.5,507.3 985,507.7 986.5,508 988,508.3 989.5,508.6 991,508.9 992.5,509.1 994,509.4 995.5,509.6 997,509.8 998.5,510 1000,510.2 1001.5,510.3 1003,510.5 1004.5,510.6 1006,510.7 1007.5,510.8 1009,510.9 1010.5,511 1012,511.1 1013.5,511.2 1015,511.2 1016.5,511.3 1018,511.4 1019.5,511.4 1021,511.5 1022.5,511.5 1024,511.5 1025.5,511.6 1027,511.6 1028.5,511.6 1030,511.7 1031.5,511.7 1033,511.7 1034.5,511.7 1036,511.8 1037.5,511.8 1039,511.8 1040.5,511.8 1042,511.8 1043.5,511.8 1045,511.8 1046.5,511.9 1048,511.9 1049.5,511.9 1051,511.9 1052.5,511.9 1054,511.9 1055.5,511.9 1057,511.9 1058.5,511.9 1060,511.9 1061.5,512 1063,512 1064.5,512 1066,512 1067.5,512 1069,512 1070.5,512 1072,512 1073.5,512 1073.5,512.3 830.5,512.3" fill="#9fc3e6" opacity="0.9"/>
<polygon points="944.5,512.3 946,512.3 947.5,512.1 949,511.4 950.5,510.5 952,509.4 953.5,507.9 955,506.1 956.5,503.9 958,501.2 959.5,498.4 961,496.5 962.5,494.4 964,492.1 965.5,489.6 967,486.8 968.5,483.8 970,480.7 971.5,477.3 973,473.8 974.5,470.2 976,466.5 977.5,462.6 979,458.8 980.5,455 982,451.2 983.5,447.5 985,444.1 986.5,440.8 988,437.9 989.5,435.3 991,433.1 992.5,431.3 994,430 995.5,429.3 997,429.1 998.5,429.5 1000,430.3 1001.5,431.7 1003,433.6 1004.5,435.9 1006,438.6 1007.5,441.7 1009,445 1010.5,448.5 1012,452.2 1013.5,456 1015,459.8 1016.5,463.7 1018,467.5 1019.5,471.2 1021,474.8 1022.5,478.3 1024,481.5 1025.5,484.7 1027,487.6 1028.5,490.3 1030,492.7 1031.5,495 1033,497.1 1034.5,498.9 1036,500.6 1037.5,502.1 1039,503.4 1040.5,504.5 1042,505.5 1043.5,506.4 1045,507.1 1046.5,507.8 1048,508.3 1049.5,508.8 1051,509.2 1052.5,509.5 1054,509.8 1055.5,510.1 1057,510.3 1058.5,510.4 1060,510.6 1061.5,510.7 1063,510.8 1064.5,510.9 1066,511 1067.5,511.1 1069,511.1 1069,512.3 944.5,512.3" fill="#f7a9ad" opacity="0.85"/>
<polyline points="791.5,511.9 793,511.9 794.5,511.9 796,511.9 797.5,511.9 799,511.8 800.5,511.8 802,511.8 803.5,511.8 805,511.8 806.5,511.8 808,511.8 809.5,511.8 811,511.8 812.5,511.7 814,511.7 815.5,511.7 817,511.7 818.5,511.7 820,511.7 821.5,511.6 823,511.6 824.5,511.6 826,511.6 827.5,511.6 829,511.5 830.5,511.5 832,511.5 833.5,511.5 835,511.4 836.5,511.4 838,511.3 839.5,511.3 841,511.3 842.5,511.2 844,511.2 845.5,511.1 847,511.1 848.5,511 850,510.9 851.5,510.9 853,510.8 854.5,510.7 856,510.6 857.5,510.5 859,510.4 860.5,510.3 862,510.2 863.5,510.1 865,510 866.5,509.8 868,509.7 869.5,509.6 871,509.4 872.5,509.2 874,509.1 875.5,508.9 877,508.7 878.5,508.5 880,508.2 881.5,508 883,507.8 884.5,507.5 886,507.3 887.5,507 889,506.7 890.5,506.5 892,506.2 893.5,505.9 895,505.6 896.5,505.2 898,504.9 899.5,504.6 901,504.2 902.5,503.9 904,503.5 905.5,503.2 907,502.8 908.5,502.4 910,502.1 911.5,501.7 913,501.3 914.5,501 916,500.6 917.5,500.2 919,499.9 920.5,499.5 922,499.2 923.5,498.9 925,498.6 926.5,498.3 928,498 929.5,497.8 931,497.5 932.5,497.3 934,497.1 935.5,497 937,496.8 938.5,496.7 940,496.7 941.5,496.6 943,496.6 944.5,496.6 946,496.7 947.5,496.7 949,496.2 950.5,495.5 952,494.7 953.5,493.6 955,492.1 956.5,490.3 958,488 959.5,485.7 961,484.3 962.5,482.7 964,480.8 965.5,478.8 967,476.5 968.5,474 970,471.4 971.5,468.5 973,465.4 974.5,462.2 976,458.9 977.5,455.5 979,452 980.5,448.6 982,445.2 983.5,441.9 985,438.7 986.5,435.8 988,433.1 989.5,430.8 991,428.9 992.5,427.4 994,426.3 995.5,425.8 997,425.8 998.5,426.4 1000,427.5 1001.5,429.1 1003,431.1 1004.5,433.6 1006,436.5 1007.5,439.6 1009,443.1 1010.5,446.8 1012,450.6 1013.5,454.5 1015,458.4 1016.5,462.4 1018,466.3 1019.5,470.1 1021,473.8 1022.5,477.3 1024,480.6 1025.5,483.8 1027,486.8 1028.5,489.5 1030,492 1031.5,494.3 1033,496.4 1034.5,498.3 1036,500 1037.5,501.5 1039,502.8 1040.5,504 1042,505 1043.5,505.9 1045,506.7 1046.5,507.3 1048,507.9 1049.5,508.4 1051,508.8 1052.5,509.1 1054,509.4 1055.5,509.7 1057,509.9 1058.5,510.1 1060,510.2 1061.5,510.4 1063,510.5 1064.5,510.6 1066,510.7 1067.5,510.8 1069,510.8 1070.5,510.9 1072,511 1073.5,511 1075,511.1 1076.5,511.1 1078,511.1 1079.5,511.2 1081,511.2 1082.5,511.2 1084,511.3 1085.5,511.3 1087,511.3 1088.5,511.4 1090,511.4 1091.5,511.4" fill="none" stroke="#5e5e5e" stroke-width="1.6"/>
<polyline points="830.5,511.5 832,511.5 833.5,511.5 835,511.4 836.5,511.4 838,511.3 839.5,511.3 841,511.3 842.5,511.2 844,511.2 845.5,511.1 847,511.1 848.5,511 850,510.9 851.5,510.9 853,510.8 854.5,510.7 856,510.6 857.5,510.5 859,510.4 860.5,510.3 862,510.2 863.5,510.1 865,510 866.5,509.8 868,509.7 869.5,509.6 871,509.4 872.5,509.2 874,509.1 875.5,508.9 877,508.7 878.5,508.5 880,508.2 881.5,508 883,507.8 884.5,507.5 886,507.3 887.5,507 889,506.7 890.5,506.5 892,506.2 893.5,505.9 895,505.6 896.5,505.2 898,504.9 899.5,504.6 901,504.2 902.5,503.9 904,503.5 905.5,503.2 907,502.8 908.5,502.4 910,502.1 911.5,501.7 913,501.3 914.5,501 916,500.6 917.5,500.2 919,499.9 920.5,499.5 922,499.2 923.5,498.9 925,498.6 926.5,498.3 928,498 929.5,497.8 931,497.5 932.5,497.3 934,497.1 935.5,497 937,496.8 938.5,496.7 940,496.7 941.5,496.6 943,496.6 944.5,496.6 946,496.7 947.5,496.9 949,497.1 950.5,497.3 952,497.6 953.5,498 955,498.4 956.5,498.8" fill="none" stroke="#2b4f86" stroke-width="1.4"/>
<polyline points="956.5,498.8 958,499.2 959.5,499.7 961,500.2 962.5,500.7 964,501.2 965.5,501.7 967,502.3 968.5,502.8 970,503.3 971.5,503.8 973,504.3 974.5,504.8 976,505.2 977.5,505.7 979,506.1 980.5,506.5 982,506.9 983.5,507.3 985,507.7 986.5,508 988,508.3 989.5,508.6 991,508.9 992.5,509.1 994,509.4 995.5,509.6 997,509.8 998.5,510 1000,510.2 1001.5,510.3 1003,510.5 1004.5,510.6 1006,510.7 1007.5,510.8 1009,510.9 1010.5,511 1012,511.1 1013.5,511.2 1015,511.2 1016.5,511.3 1018,511.4 1019.5,511.4 1021,511.5 1022.5,511.5 1024,511.5 1025.5,511.6 1027,511.6 1028.5,511.6 1030,511.7 1031.5,511.7 1033,511.7 1034.5,511.7 1036,511.8 1037.5,511.8 1039,511.8 1040.5,511.8 1042,511.8 1043.5,511.8 1045,511.8 1046.5,511.9 1048,511.9 1049.5,511.9 1051,511.9 1052.5,511.9 1054,511.9 1055.5,511.9 1057,511.9 1058.5,511.9 1060,511.9 1061.5,512 1063,512 1064.5,512 1066,512 1067.5,512 1069,512 1070.5,512 1072,512 1073.5,512" fill="none" stroke="#2b4f86" stroke-width="1" opacity="0.35"/>
<polyline points="944.5,512.3 946,512.3 947.5,512.1 949,511.4 950.5,510.5 952,509.4 953.5,507.9 955,506.1 956.5,503.9 958,501.2 959.5,498.4 961,496.5 962.5,494.4 964,492.1 965.5,489.6 967,486.8 968.5,483.8 970,480.7 971.5,477.3 973,473.8 974.5,470.2 976,466.5 977.5,462.6 979,458.8 980.5,455 982,451.2 983.5,447.5 985,444.1 986.5,440.8 988,437.9 989.5,435.3 991,433.1 992.5,431.3 994,430 995.5,429.3 997,429.1 998.5,429.5 1000,430.3 1001.5,431.7 1003,433.6 1004.5,435.9 1006,438.6 1007.5,441.7 1009,445 1010.5,448.5 1012,452.2 1013.5,456 1015,459.8 1016.5,463.7 1018,467.5 1019.5,471.2 1021,474.8 1022.5,478.3 1024,481.5 1025.5,484.7 1027,487.6 1028.5,490.3 1030,492.7 1031.5,495 1033,497.1 1034.5,498.9 1036,500.6 1037.5,502.1 1039,503.4 1040.5,504.5 1042,505.5 1043.5,506.4 1045,507.1 1046.5,507.8 1048,508.3 1049.5,508.8 1051,509.2 1052.5,509.5 1054,509.8 1055.5,510.1 1057,510.3 1058.5,510.4 1060,510.6 1061.5,510.7 1063,510.8 1064.5,510.9 1066,511 1067.5,511.1 1069,511.1" fill="none" stroke="#cc1f2d" stroke-width="1.3"/>
<path d="M791.5 512.3H1091.5" stroke="#cf2a3c" stroke-width="2.3"/>
</g>
<path d="M996.8 79.7V442M943 148.6V504" stroke="#111" stroke-width="1.35" stroke-dasharray="4.2 2.5" fill="none"/>
<path d="M791.5 73.3H1091.5V529.9H791.5ZM791.5 529.9v5.3M841.5 529.9v2.8M891.5 529.9v5.3M941.5 529.9v2.8M991.5 529.9v5.3M1041.5 529.9v2.8M1091.5 529.9v5.3" stroke="#222" stroke-width="1.3" fill="none"/>
<text x="791.5" y="554.6" font-size="20.6" text-anchor="middle">695</text>
<text x="891.5" y="554.6" font-size="20.6" text-anchor="middle">690</text>
<text x="991.5" y="554.6" font-size="20.6" text-anchor="middle">685</text>
<text x="1091.5" y="554.6" font-size="20.6" text-anchor="middle">680</text>
<text x="942" y="581.1" font-size="21.4" text-anchor="middle">Binding energy (eV)</text>
<text transform="translate(775,299.3) rotate(-90)" font-size="21.8" text-anchor="middle">Intensity (a.u.)</text>
<text x="930.9" y="68.3" font-size="24" text-anchor="middle">ZSF</text>
<text x="796.6" y="97.4" font-size="21.5">F 1s</text>
<text x="797.4" y="152.2" font-size="20.5">240 s</text>
<text x="797.4" y="270.8" font-size="20.5">120 s</text>
<text x="797.4" y="386.9" font-size="20.5">60 s</text>
<text x="797.8" y="498.6" font-size="20.5">0 s</text>
<text x="1012" y="440.6" font-size="21">ZnF<tspan font-size="14" dy="4.8">2</tspan></text>
<text x="899.5" y="477.2" font-size="20.5">-CF<tspan font-size="14" dy="4.8">3</tspan></text>
<g fill="#222" font-size="21.5" text-anchor="middle"><text x="181.5" y="-3.9" opacity="0.32">Binding energy (eV)</text><text x="924" y="-3.9" opacity="0.32">Binding energy (eV)</text><text x="1296.4" y="-2.6" opacity="0.85">Binding energy (eV)</text></g></svg>
</body></html>
